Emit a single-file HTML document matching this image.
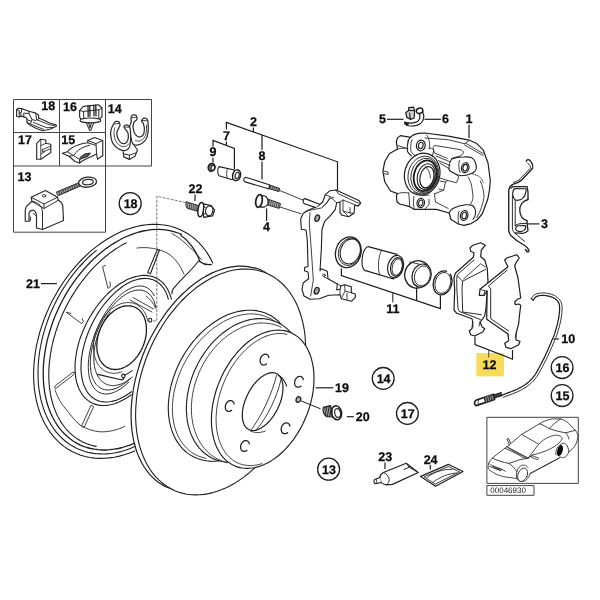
<!DOCTYPE html>
<html><head><meta charset="utf-8"><title>Brake parts diagram</title>
<style>
html,body{margin:0;padding:0;background:#fff;}
body{width:600px;height:600px;overflow:hidden;font-family:"Liberation Sans",sans-serif;}
svg{display:block}
.l{fill:none;stroke:#1e1e1e;stroke-width:1.1;stroke-linecap:round;stroke-linejoin:round}
.w{fill:#fff;stroke:#1e1e1e;stroke-width:1.1;stroke-linecap:round;stroke-linejoin:round}
.n{fill:none;stroke:#2c2c2c;stroke-width:0.9;stroke-linecap:round;stroke-linejoin:round}
.nw{fill:#fff;stroke:#2c2c2c;stroke-width:0.9;stroke-linecap:round;stroke-linejoin:round}
.k{fill:none;stroke:#1a1a1a;stroke-width:1.5;stroke-linecap:round;stroke-linejoin:round}
.g{fill:none;stroke:#444;stroke-width:1}
.ld{fill:none;stroke:#1e1e1e;stroke-width:1.2;stroke-linecap:butt}
.d{fill:none;stroke:#444;stroke-width:0.7;stroke-dasharray:3 1.2}
.f{fill:#fff;stroke:none}
.b{fill:#222;stroke:none}
.t,.s{text-rendering:geometricPrecision}
.t{font-family:"Liberation Sans",sans-serif;font-weight:bold;font-size:12.5px;fill:#0a0a0a;stroke:#0a0a0a;stroke-width:0.25px}
.s{font-family:"Liberation Sans",sans-serif;font-size:8px;fill:#222}
</style></head><body>
<svg width="600" height="600" viewBox="0 0 600 600">
<defs><filter id="idf" x="-5%" y="-5%" width="110%" height="110%" color-interpolation-filters="sRGB"><feOffset dx="0" dy="0"/></filter></defs>
<rect x="0" y="0" width="600" height="600" fill="#fff"/>
<path class="w" d="M134.7,450.9 L129.6,452.9 L124.5,454.7 L119.4,456.1 L114.3,457.2 L109.3,457.9 L104.3,458.3 L99.4,458.4 L94.6,458.1 L89.9,457.5 L85.2,456.5 L80.7,455.2 L76.4,453.5 L72.2,451.5 L68.1,449.2 L64.3,446.6 L60.6,443.7 L57.1,440.4 L53.8,436.9 L50.8,433.1 L48.0,429.0 L45.4,424.7 L43.0,420.1 L40.9,415.3 L39.1,410.3 L37.5,405.1 L36.2,399.6 L35.1,394.0 L34.3,388.3 L33.8,382.4 L33.6,376.4 L33.7,370.3 L34.0,364.1 L34.6,357.9 L35.5,351.5 L36.6,345.2 L38.1,338.9 L39.7,332.5 L41.7,326.2 L43.9,319.9 L46.3,313.7 L49.0,307.6 L51.9,301.6 L55.1,295.7 L58.4,289.9 L62.0,284.2 L65.7,278.8 L69.7,273.5 L73.8,268.4 L78.0,263.6 L82.4,259.0 L87.0,254.6 L91.6,250.4 L96.4,246.6 L101.3,243.0 L106.2,239.7 L111.2,236.7 L116.3,234.0 L121.4,231.6 L126.5,229.6 L131.6,227.9 L136.7,226.5 L141.7,225.4 L146.8,224.7 L151.7,224.4 L156.7,224.3 L161.5,224.7 L166.2,225.3 L170.8,226.3 L175.3,227.7 L179.6,229.4 L183.8,231.4 L187.8,233.7 L191.7,236.4 L195.3,239.3 L198.8,242.6 L202.1,246.1 L205.1,250.0 L207.9,254.1 L210.5,258.4 L212.8,263.0" />
<path class="l" d="M134.7,446.6 L131.5,448.0 L128.3,449.2 L125.1,450.3 L121.9,451.3 L118.7,452.1 L115.5,452.8 L112.3,453.3 L109.1,453.7 L106.0,453.9 L102.9,454.0 L99.8,453.9 L96.8,453.8 L93.8,453.4 L90.8,452.9 L87.9,452.3 L85.1,451.6 L82.3,450.6 L79.5,449.6 L76.9,448.4 L74.3,447.1 L71.7,445.6 L69.2,444.0 L66.8,442.3 L64.5,440.5 L62.3,438.5 L60.1,436.4 L58.1,434.2 L56.1,431.8 L54.2,429.4 L52.4,426.8 L50.7,424.1 L49.1,421.3 L47.6,418.4 L46.2,415.4 L44.9,412.3 L43.7,409.2 L42.7,405.9 L41.7,402.6 L40.8,399.1 L40.1,395.6 L39.5,392.1 L38.9,388.4 L38.5,384.7 L38.2,381.0 L38.1,377.2 L38.0,373.3 L38.1,369.4 L38.2,365.5 L38.5,361.5 L38.9,357.5 L39.4,353.5 L40.0,349.5 L40.8,345.5 L41.6,341.4 L42.5,337.4 L43.6,333.3 L44.8,329.3 L46.1,325.3 L47.4,321.3 L48.9,317.3 L50.5,313.4 L52.2,309.5 L54.0,305.6 L55.9,301.8 L57.8,298.0 L59.9,294.3 L62.0,290.6 L64.2,287.0 L66.6,283.5 L68.9,280.0 L71.4,276.7 L73.9,273.4 L76.5,270.2 L79.2,267.0 L82.0,264.0 L84.7,261.1 L87.6,258.2 L90.5,255.5 L93.4,252.9 L96.4,250.4" />
<path class="l" d="M134.9,443.0 L130.7,444.8 L126.6,446.2 L122.4,447.5 L118.3,448.5 L114.1,449.2 L110.1,449.7 L106.1,450.0 L102.1,450.0 L98.2,449.7 L94.4,449.2 L90.6,448.5 L87.0,447.5 L83.4,446.3 L79.9,444.8 L76.6,443.1 L73.4,441.2 L70.3,439.0 L67.4,436.6 L64.6,434.0 L61.9,431.1 L59.4,428.1 L57.1,424.9 L54.9,421.5 L52.9,417.8 L51.1,414.1 L49.5,410.1 L48.0,406.0 L46.7,401.7 L45.7,397.3 L44.8,392.8 L44.1,388.1 L43.6,383.4 L43.3,378.5 L43.2,373.6 L43.3,368.5 L43.6,363.4 L44.1,358.3 L44.8,353.1 L45.7,347.9 L46.7,342.7 L48.0,337.4 L49.5,332.2 L51.1,327.0 L52.9,321.8 L54.9,316.6 L57.1,311.5 L59.4,306.5 L61.9,301.5 L64.5,296.7 L67.3,291.9 L70.3,287.2 L73.4,282.7 L76.6,278.2 L79.9,274.0 L83.4,269.8 L86.9,265.9 L90.6,262.0 L94.3,258.4 L98.1,255.0 L102.0,251.7 L106.0,248.6 L110.0,245.8 L114.1,243.1 L118.2,240.7 L122.3,238.5 L126.5,236.5 L130.7,234.8 L134.8,233.3 L139.0,232.0 L143.1,231.0 L147.2,230.3 L151.3,229.7 L155.3,229.4 L159.3,229.4 L163.2,229.6 L167.1,230.1 L170.8,230.8 L174.5,231.8 L178.1,233.0 L181.5,234.4" style="stroke-width:1.3"/>
<path class="l" d="M181,235.5 C188,240 196,250 200,261.7" style="stroke-width:1.3"/>
<path class="l" d="M96.2,446.4 L93.8,445.9 L91.3,445.3 L89.0,444.5 L86.7,443.7 L84.4,442.7 L82.2,441.7 L80.0,440.5 L77.9,439.2 L75.9,437.9 L73.9,436.4 L72.0,434.8 L70.1,433.1 L68.3,431.4 L66.6,429.5 L64.9,427.5 L63.4,425.5 L61.9,423.4 L60.4,421.1 L59.1,418.8 L57.8,416.4 L56.6,414.0 L55.5,411.4 L54.5,408.8 L53.5,406.1 L52.7,403.3 L51.9,400.5 L51.2,397.6 L50.6,394.7 L50.1,391.6 L49.6,388.6 L49.3,385.5 L49.0,382.3 L48.9,379.1 L48.8,375.9 L48.8,372.6 L48.9,369.3 L49.1,365.9 L49.4,362.6 L49.8,359.2 L50.2,355.8 L50.8,352.3 L51.4,348.9 L52.1,345.5 L52.9,342.0 L53.8,338.5 L54.8,335.1 L55.8,331.6 L57.0,328.2 L58.2,324.8 L59.5,321.4 L60.9,318.0 L62.3,314.6 L63.9,311.3 L65.5,308.0 L67.1,304.7 L68.9,301.4 L70.7,298.2 L72.6,295.1 L74.5,292.0 L76.5,288.9 L78.6,285.9 L80.7,283.0 L82.9,280.1 L85.1,277.3 L87.4,274.5 L89.7,271.8 L92.1,269.2 L94.5,266.7 L97.0,264.2 L99.5,261.8 L102.0,259.5 L104.6,257.3 L107.2,255.2 L109.8,253.1 L112.5,251.2 L115.2,249.3 L117.9,247.6 L120.6,245.9 L123.3,244.3 L126.1,242.9" />
<path class="l" d="M200,261.7 C203,264 207,265.2 211.2,264.5" style="stroke-width:1.3"/>
<path class="n" d="M172,233.5 C182,239 192,249 201.5,259.5" />
<path class="l" d="M198.6,261 C194,267 189,272 184.6,276.4 C180,281 176,285.5 173.4,288.6 C172,290.4 171.6,292 172,293.6" />
<path class="n" d="M137,248 C148,246.5 160,249 168,253.5 C175,258 180,265 184,274" />
<path class="n" d="M55,390 C58,398 61,403.5 65,408 C70,414 74,420 80,425 C86,429 93,431.2 100,431.8 C108,432.2 118,430 124.8,426.3" />
<path class="n" d="M105.6,265.2 L102.6,266.8 L108,288.4 L110.4,286.6 L110,282" />
<path class="n" d="M71,313.5 L66.2,312.2 L81.6,323.6 L83.4,321.4 L82,318.5" />
<path class="n" d="M74.6,372.8 L73,375.2 L55.4,388.8 L54.6,386.4 L72.6,372.4 Z" />
<path class="n" d="M91.4,405.4 L93.6,406.6 L84,427.6 L81.8,426.4 Z" />
<path class="l" d="M147.6,272.6 L157.4,249.4 L159.4,250.2 L150.4,273.8 Z" />
<path class="l" d="M131.3,394.8 L128.5,396.8 L125.7,398.6 L122.9,400.1 L120.1,401.5 L117.3,402.7 L114.5,403.7 L111.7,404.5 L109.0,405.0 L106.4,405.4 L103.8,405.5 L101.2,405.4 L98.8,405.1 L96.4,404.6 L94.1,403.9 L91.9,402.9 L89.8,401.8 L87.9,400.4 L86.0,398.9 L84.3,397.1 L82.7,395.2 L81.3,393.1 L80.0,390.8 L78.8,388.4 L77.8,385.8 L76.9,383.0 L76.2,380.1 L75.7,377.1 L75.3,373.9 L75.1,370.7 L75.0,367.3 L75.1,363.8 L75.4,360.3 L75.8,356.7 L76.4,353.1 L77.1,349.4 L78.0,345.6 L79.0,341.9 L80.2,338.2 L81.6,334.4 L83.1,330.7 L84.7,327.0 L86.4,323.4 L88.3,319.8 L90.3,316.3 L92.4,312.9 L94.6,309.5 L96.9,306.3 L99.3,303.1 L101.8,300.1 L104.3,297.3 L106.9,294.5 L109.6,292.0 L112.3,289.6 L115.1,287.3 L117.9,285.2 L120.7,283.3 L123.5,281.7 L126.3,280.1 L129.1,278.8 L131.9,277.7 L134.7,276.9 L137.4,276.2 L140.1,275.7 L142.7,275.4 L145.3,275.4 L147.8,275.6 L150.2,276.0 L152.6,276.6 L154.8,277.4 L157.0,278.4 L159.0,279.7 L160.9,281.1 L162.7,282.7 L164.4,284.5 L165.9,286.5 L167.3,288.7 L168.5,291.1 L169.6,293.6 L170.6,296.3 L171.4,299.1" />
<path class="l" d="M131.4,391.7 L128.9,393.5 L126.3,395.2 L123.8,396.8 L121.2,398.1 L118.7,399.2 L116.2,400.2 L113.7,400.9 L111.3,401.5 L108.9,401.8 L106.6,402.0 L104.3,401.9 L102.1,401.7 L100.0,401.2 L98.0,400.6 L96.0,399.7 L94.2,398.7 L92.4,397.5 L90.8,396.1 L89.2,394.5 L87.8,392.7 L86.5,390.7 L85.4,388.6 L84.3,386.3 L83.4,383.9 L82.7,381.3 L82.1,378.6 L81.6,375.8 L81.2,372.9 L81.0,369.8 L81.0,366.7 L81.1,363.5 L81.3,360.1 L81.7,356.8 L82.3,353.3 L82.9,349.9 L83.8,346.4 L84.7,342.8 L85.8,339.3 L87.0,335.8 L88.3,332.3 L89.8,328.8 L91.4,325.3 L93.0,321.9 L94.8,318.6 L96.7,315.3 L98.7,312.1 L100.8,309.0 L102.9,306.0 L105.2,303.2 L107.5,300.4 L109.8,297.8 L112.2,295.3 L114.7,292.9 L117.2,290.7 L119.7,288.7 L122.2,286.8 L124.7,285.1 L127.3,283.6 L129.8,282.3 L132.3,281.1 L134.8,280.2 L137.3,279.5 L139.7,278.9 L142.1,278.6 L144.5,278.4 L146.7,278.5 L148.9,278.7 L151.0,279.2 L153.1,279.8 L155.0,280.7 L156.9,281.7 L158.6,283.0 L160.3,284.4 L161.8,286.0 L163.2,287.8 L164.5,289.7 L165.7,291.8 L166.7,294.1 L167.6,296.5 L168.3,299.1" />
<path class="l" d="M128.7,382.1 L126.8,383.9 L124.9,385.6 L123.0,387.1 L121.1,388.5 L119.1,389.7 L117.2,390.8 L115.4,391.7 L113.5,392.5 L111.7,393.1 L109.9,393.6 L108.1,393.9 L106.4,394.0 L104.8,394.0 L103.1,393.7 L101.6,393.4 L100.1,392.8 L98.7,392.1 L97.4,391.3 L96.1,390.3 L95.0,389.1 L93.9,387.8 L92.9,386.3 L92.0,384.7 L91.2,383.0 L90.4,381.1 L89.8,379.1 L89.3,377.0 L88.9,374.8 L88.6,372.4 L88.4,370.0 L88.3,367.5 L88.3,364.9 L88.4,362.2 L88.7,359.4 L89.0,356.6 L89.4,353.7 L90.0,350.8 L90.6,347.9 L91.3,344.9 L92.2,341.9 L93.1,339.0 L94.1,336.0 L95.2,333.0 L96.4,330.1 L97.7,327.1 L99.0,324.3 L100.4,321.4 L101.9,318.7 L103.5,315.9 L105.1,313.3 L106.8,310.8 L108.5,308.3 L110.3,305.9 L112.1,303.7 L113.9,301.5 L115.8,299.5 L117.6,297.6 L119.6,295.8 L121.5,294.1 L123.4,292.6 L125.3,291.3 L127.2,290.1 L129.1,289.0 L131.0,288.1 L132.8,287.4 L134.7,286.8 L136.5,286.3 L138.2,286.1 L139.9,286.0 L141.5,286.1 L143.1,286.3 L144.7,286.7 L146.1,287.3 L147.5,288.0 L148.8,288.9 L150.1,289.9 L151.2,291.1 L152.3,292.5 L153.3,294.0 L154.2,295.6" style="stroke-width:0.95"/>
<path class="l" d="M130.5,378.3 L128.6,380.1 L126.7,381.8 L124.7,383.3 L122.8,384.7 L120.8,386.0 L118.9,387.0 L116.9,388.0 L115.0,388.7 L113.1,389.3 L111.3,389.7 L109.5,389.9 L107.8,390.0 L106.1,389.9 L104.4,389.6 L102.9,389.1 L101.4,388.5 L99.9,387.7 L98.6,386.8 L97.4,385.6 L96.2,384.4 L95.1,382.9 L94.2,381.3 L93.3,379.6 L92.5,377.7 L91.9,375.7 L91.3,373.6 L90.9,371.4 L90.6,369.0 L90.4,366.6 L90.3,364.0 L90.3,361.4 L90.5,358.7 L90.7,355.9 L91.1,353.1 L91.6,350.2 L92.2,347.3 L92.9,344.4 L93.7,341.5 L94.6,338.5 L95.6,335.6 L96.7,332.7 L97.9,329.8 L99.2,326.9 L100.6,324.1 L102.1,321.3 L103.6,318.6 L105.2,316.0 L106.9,313.4 L108.6,311.0 L110.4,308.6 L112.2,306.4 L114.0,304.3 L115.9,302.3 L117.8,300.4 L119.8,298.7 L121.7,297.1 L123.7,295.7 L125.6,294.4 L127.6,293.2 L129.5,292.3 L131.4,291.5 L133.3,290.9 L135.2,290.4 L137.0,290.1 L138.8,290.0 L140.5,290.1 L142.1,290.3 L143.7,290.7 L145.2,291.3 L146.7,292.0 L148.0,293.0 L149.3,294.0 L150.5,295.3 L151.6,296.7 L152.6,298.2 L153.5,299.9 L154.3,301.7 L154.9,303.7 L155.5,305.8 L156.0,308.0" style="stroke-width:0.95"/>
<path class="l" d="M132.3,377.0 L131.2,377.9 L130.1,378.8 L129.0,379.6 L127.9,380.4 L126.8,381.1 L125.6,381.8 L124.5,382.4 L123.4,383.0 L122.2,383.5 L121.1,384.0 L120.0,384.4 L118.9,384.7 L117.8,385.0 L116.7,385.2 L115.6,385.4 L114.6,385.5 L113.5,385.6 L112.5,385.6 L111.5,385.5 L110.5,385.4 L109.5,385.2 L108.5,385.0 L107.6,384.7 L106.7,384.4 L105.8,384.0 L104.9,383.5 L104.0,383.0 L103.2,382.4 L102.4,381.8 L101.7,381.1 L100.9,380.4 L100.3,379.6 L99.6,378.8 L99.0,377.9 L98.4,377.0 L97.8,376.0 L97.3,375.0 L96.8,373.9 L96.3,372.8 L95.9,371.7 L95.5,370.5 L95.2,369.3 L94.8,368.0 L94.6,366.7 L94.4,365.4 L94.2,364.0 L94.0,362.6 L93.9,361.2 L93.8,359.7 L93.8,358.2 L93.8,356.7 L93.9,355.2 L94.0,353.7 L94.1,352.1 L94.3,350.5 L94.5,348.9 L94.7,347.3 L95.0,345.7 L95.3,344.1 L95.7,342.5 L96.1,340.8 L96.5,339.2 L97.0,337.6 L97.5,335.9 L98.1,334.3 L98.7,332.7 L99.3,331.1 L99.9,329.5 L100.6,327.9 L101.3,326.4 L102.1,324.8 L102.8,323.3 L103.6,321.8 L104.5,320.3 L105.3,318.8 L106.2,317.4 L107.1,316.0 L108.0,314.6 L109.0,313.3 L110.0,312.0" style="stroke-width:0.95"/>
<path class="l" d="M100.4,328.7 L101.1,327.1 L101.8,325.6 L102.6,324.0 L103.5,322.5 L104.4,321.1 L105.4,319.7 L106.4,318.3 L107.4,317.0 L108.5,315.8 L109.6,314.6 L110.8,313.5 L112.0,312.4 L113.2,311.4 L114.4,310.5 L115.7,309.7 L116.9,308.9 L118.2,308.2 L119.5,307.6 L120.8,307.1 L122.1,306.7 L123.4,306.3 L124.7,306.0 L126.0,305.9 L127.3,305.8 L128.5,305.8 L129.8,305.8 L131.0,306.0 L132.2,306.3 L133.3,306.6 L134.5,307.0 L135.5,307.5 L136.6,308.1 L137.6,308.8 L138.6,309.5 L139.5,310.4 L140.4,311.3 L141.2,312.2 L142.0,313.3 L142.7,314.4 L143.4,315.6 L144.0,316.8 L144.5,318.1 L145.0,319.4 L145.4,320.8 L145.7,322.3 L146.0,323.8 L146.2,325.3 L146.4,326.8 L146.4,328.4 L146.4,330.0 L146.4,331.7 L146.3,333.3 L146.1,335.0 L145.8,336.6 L145.5,338.3 L145.1,340.0 L144.6,341.6 L144.1,343.3 L143.5,344.9 L142.9,346.5 L142.2,348.1 L141.4,349.7 L140.6,351.2 L139.7,352.7 L138.8,354.2 L137.9,355.6 L136.9,356.9 L135.8,358.2 L134.7,359.5 L133.6,360.6 L132.5,361.8 L131.3,362.8 L130.1,363.8 L128.8,364.7 L127.6,365.6 L126.3,366.3 L125.0,367.0 L123.7,367.6 L122.4,368.1 L121.1,368.6 L119.8,368.9 L118.6,369.2 L117.3,369.4 L116.0,369.5 L114.7,369.5 L113.5,369.4 L112.3,369.2 L111.1,369.0 L109.9,368.7 L108.8,368.2 L107.7,367.7 L106.6,367.1 L105.6,366.5 L104.7,365.7 L103.7,364.9 L102.9,364.0 L102.0,363.0 L101.3,362.0 L100.5,360.9 L99.9,359.7 L99.3,358.4 L98.8,357.1 L98.3,355.8 L97.9,354.4 L97.5,353.0 L97.2,351.5 L97.0,350.0 L96.9,348.4 L96.8,346.8 L96.8,345.2 L96.9,343.6 L97.0,341.9 L97.2,340.3 L97.4,338.6 L97.8,336.9 L98.2,335.3 L98.6,333.6 L99.1,332.0 L99.7,330.3Z" style="stroke-width:1.3"/>
<path class="n" d="M121.9,371.8 L120.3,372.3 L118.8,372.7 L117.3,373.0 L115.7,373.2 L114.2,373.3 L112.7,373.3 L111.3,373.1 L109.8,372.9 L108.4,372.5 L107.1,372.0 L105.8,371.4 L104.5,370.7 L103.3,369.9 L102.1,369.0 L101.0,368.0 L100.0,366.9 L99.0,365.8 L98.1,364.5 L97.3,363.1 L96.5,361.7 L95.9,360.2 L95.3,358.6 L94.8,357.0 L94.3,355.3 L94.0,353.5 L93.7,351.7 L93.6,349.8 L93.5,347.9 L93.5,346.0 L93.6,344.1 L93.7,342.1 L94.0,340.1 L94.4,338.1 L94.8,336.1 L95.3,334.1 L95.9,332.2 L96.6,330.2 L97.3,328.3 L98.2,326.4 L99.1,324.5 L100.0,322.7 L101.1,320.9 L102.2,319.2 L103.3,317.6 L104.5,316.0 L105.8,314.4 L107.1,313.0 L108.5,311.6 L109.9,310.3 L111.3,309.1 L112.8,308.0 L114.3,307.0 L115.8,306.1 L117.3,305.3 L118.9,304.6 L120.4,303.9 L122.0,303.4 L123.5,303.1 L125.0,302.8 L126.6,302.6 L128.1,302.5 L129.6,302.6 L131.0,302.8 L132.4,303.0 L133.8,303.4 L135.2,303.9 L136.5,304.5 L137.8,305.2 L139.0,306.1 L140.1,307.0 L141.2,308.0 L142.2,309.1 L143.2,310.3 L144.1,311.6 L144.9,312.9 L145.6,314.4 L146.3,315.9 L146.9,317.5 L147.4,319.2 L147.8,320.9" />
<ellipse class="l" cx="150.2" cy="320.2" rx="1.6" ry="1.9"/>
<path class="n" d="M130,300 L152,312" />
<path class="n" d="M133,297.5 L153.5,309" />
<path class="n" d="M146,296 C150,299 153.5,303 155.5,308" />
<ellipse class="l" cx="123.3" cy="376" rx="1.6" ry="1.9"/>
<path class="l" d="M97.8,374.4 L121,379.8 C122.6,380 123.6,379.2 124,378" />
<path class="l" d="M124.8,375.4 L132.2,370.6" />
<path class="d" d="M186,202.6 L156.8,196.2 V321 H151.5" />
<path class="f" d="M145.1,349.7 L147.6,344.1 L150.3,338.5 L153.2,333.1 L156.2,327.7 L159.4,322.6 L162.7,317.5 L166.2,312.7 L169.8,308.0 L173.5,303.5 L177.3,299.2 L181.3,295.2 L185.3,291.3 L189.4,287.7 L193.6,284.4 L197.8,281.3 L202.0,278.5 L206.3,276.0 L210.7,273.7 L215.0,271.7 L219.3,270.1 L223.6,268.7 L227.9,267.6 L232.1,266.8 L236.3,266.4 L240.4,266.2 L244.5,266.3 L248.5,266.8 L252.3,267.6 L256.1,268.6 L259.8,270.0 L263.3,271.7 L266.7,273.6 L269.9,275.9 L273.0,278.4 L275.9,281.2 L278.7,284.3 L281.3,287.6 L283.7,291.2 L285.9,295.0 L287.9,299.1 L289.7,303.4 L291.3,307.8 L292.6,312.5 L293.8,317.4 L294.8,322.4 L295.5,327.6 L296.0,332.9 L296.2,338.3 L296.3,343.9 L296.1,349.5 L295.7,355.3 L295.1,361.1 L294.2,366.9 L293.1,372.8 L291.9,378.7 L290.3,384.5 L288.6,390.4 L286.7,396.3 L284.6,402.1 L282.3,407.8 L279.8,413.4 L277.1,419.0 L274.2,424.4 L271.2,429.8 L268.0,434.9 L264.7,440.0 L261.2,444.8 L257.6,449.5 L253.9,454.0 L250.1,458.3 L246.1,462.3 L242.1,466.2 L238.0,469.8 L233.8,473.1 L229.6,476.2 L225.4,479.0 L221.1,481.5 L216.7,483.8 L212.4,485.8 L208.1,487.4 L203.8,488.8 L199.5,489.9 L195.3,490.7 L191.1,491.1 L187.0,491.3 L182.9,491.2 L178.9,490.7 L175.1,489.9 L171.3,488.9 L167.6,487.5 L164.1,485.8 L160.7,483.9 L157.5,481.6 L154.4,479.1 L151.5,476.3 L148.7,473.2 L146.1,469.9 L143.7,466.3 L141.5,462.5 L139.5,458.4 L137.7,454.1 L136.1,449.7 L134.8,445.0 L133.6,440.1 L132.6,435.1 L131.9,429.9 L131.4,424.6 L131.2,419.2 L131.1,413.6 L131.3,408.0 L131.7,402.2 L132.3,396.4 L133.2,390.6 L134.3,384.7 L135.5,378.8 L137.1,373.0 L138.8,367.1 L140.7,361.2 L142.8,355.4Z" />
<path class="l" d="M180.0,490.9 L177.0,490.4 L174.1,489.7 L171.2,488.8 L168.4,487.8 L165.6,486.6 L162.9,485.2 L160.3,483.6 L157.8,481.9 L155.4,480.0 L153.1,477.9 L150.9,475.7 L148.8,473.3 L146.8,470.7 L144.9,468.0 L143.1,465.2 L141.4,462.2 L139.9,459.1 L138.4,455.9 L137.1,452.5 L135.9,449.0 L134.9,445.4 L133.9,441.7 L133.1,437.9 L132.5,434.0 L131.9,429.9 L131.5,425.9 L131.3,421.7 L131.1,417.5 L131.1,413.2 L131.2,408.8 L131.5,404.4 L131.9,400.0 L132.5,395.5 L133.1,391.0 L133.9,386.5 L134.8,381.9 L135.9,377.4 L137.1,372.8 L138.4,368.3 L139.8,363.8 L141.4,359.3 L143.0,354.8 L144.8,350.4 L146.7,346.0 L148.7,341.7 L150.8,337.5 L153.1,333.3 L155.4,329.2 L157.8,325.1 L160.3,321.2 L162.9,317.3 L165.5,313.6 L168.3,309.9 L171.1,306.4 L174.0,303.0 L176.9,299.7 L180.0,296.5 L183.0,293.5 L186.2,290.6 L189.3,287.8 L192.5,285.2 L195.8,282.8 L199.0,280.5 L202.3,278.3 L205.6,276.4 L209.0,274.6 L212.3,272.9 L215.6,271.5 L219.0,270.2 L222.3,269.1 L225.6,268.1 L228.9,267.4 L232.1,266.8 L235.4,266.4 L238.6,266.2 L241.7,266.2 L244.9,266.4 L247.9,266.7 L250.9,267.3 L253.9,268.0" style="stroke-width:1.2"/>
<path class="w" d="M148.7,352.0 L151.2,346.3 L153.8,340.8 L156.7,335.3 L159.7,330.0 L162.9,324.8 L166.2,319.8 L169.7,314.9 L173.4,310.3 L177.1,305.8 L181.0,301.5 L185.0,297.5 L189.1,293.7 L193.3,290.1 L197.5,286.8 L201.9,283.8 L206.2,281.0 L210.6,278.5 L215.1,276.2 L219.5,274.3 L224.0,272.7 L228.4,271.3 L232.8,270.3 L237.2,269.5 L241.6,269.1 L245.8,269.0 L250.1,269.2 L254.2,269.7 L258.2,270.5 L262.2,271.6 L266.0,273.0 L269.7,274.8 L273.3,276.8 L276.7,279.1 L280.0,281.7 L283.1,284.5 L286.0,287.6 L288.8,291.0 L291.4,294.7 L293.7,298.5 L295.9,302.6 L297.9,306.9 L299.6,311.5 L301.2,316.2 L302.5,321.1 L303.6,326.1 L304.5,331.4 L305.1,336.7 L305.5,342.2 L305.7,347.8 L305.6,353.5 L305.3,359.2 L304.8,365.0 L304.1,370.9 L303.1,376.8 L301.9,382.7 L300.5,388.6 L298.8,394.5 L296.9,400.4 L294.9,406.2 L292.6,411.9 L290.1,417.6 L287.5,423.1 L284.6,428.6 L281.6,433.9 L278.4,439.1 L275.1,444.1 L271.6,449.0 L267.9,453.6 L264.2,458.1 L260.3,462.4 L256.3,466.4 L252.2,470.2 L248.0,473.8 L243.8,477.1 L239.4,480.1 L235.1,482.9 L230.7,485.4 L226.2,487.7 L221.8,489.6 L217.3,491.2 L212.9,492.6 L208.5,493.6 L204.1,494.4 L199.7,494.8 L195.5,494.9 L191.2,494.7 L187.1,494.2 L183.1,493.4 L179.1,492.3 L175.3,490.9 L171.6,489.1 L168.0,487.1 L164.6,484.8 L161.3,482.2 L158.2,479.4 L155.3,476.3 L152.5,472.9 L149.9,469.2 L147.6,465.4 L145.4,461.3 L143.4,457.0 L141.7,452.4 L140.1,447.7 L138.8,442.8 L137.7,437.8 L136.8,432.5 L136.2,427.2 L135.8,421.7 L135.6,416.1 L135.7,410.4 L136.0,404.7 L136.5,398.9 L137.2,393.0 L138.2,387.1 L139.4,381.2 L140.8,375.3 L142.5,369.4 L144.4,363.5 L146.4,357.7Z" />
<path class="l" d="M254,267.6 C258,268.4 262,270 266,272.6" />
<path class="w" d="M181.8,358.4 L183.9,354.8 L186.1,351.2 L188.5,347.7 L191.0,344.4 L193.5,341.1 L196.2,338.0 L199.0,335.0 L201.9,332.1 L204.8,329.4 L207.9,326.9 L211.0,324.5 L214.1,322.2 L217.3,320.2 L220.5,318.3 L223.8,316.6 L227.0,315.1 L230.3,313.8 L233.6,312.7 L236.9,311.8 L240.2,311.1 L243.4,310.6 L246.6,310.3 L249.8,310.2 L252.9,310.3 L256.0,310.6 L259.0,311.2 L261.9,311.9 L264.7,312.8 L267.4,314.0 L270.1,315.3 L272.6,316.8 L275.0,318.5 L277.3,320.4 L279.5,322.5 L281.5,324.8 L283.4,327.2 L285.2,329.8 L286.8,332.5 L288.2,335.4 L289.5,338.4 L290.7,341.5 L291.6,344.8 L292.5,348.2 L293.1,351.6 L293.6,355.2 L293.9,358.9 L294.0,362.6 L294.0,366.4 L293.7,370.2 L293.3,374.1 L292.8,378.0 L292.1,382.0 L291.2,385.9 L290.1,389.9 L288.9,393.8 L287.5,397.7 L286.0,401.6 L284.3,405.5 L282.5,409.3 L280.5,413.0 L278.4,416.6 L276.2,420.2 L273.8,423.7 L271.3,427.0 L268.8,430.3 L266.1,433.4 L263.3,436.4 L260.4,439.3 L257.5,442.0 L254.4,444.5 L251.3,446.9 L248.2,449.2 L245.0,451.2 L241.8,453.1 L238.5,454.8 L235.3,456.3 L232.0,457.6 L228.7,458.7 L225.4,459.6 L222.1,460.3 L218.9,460.8 L215.7,461.1 L212.5,461.2 L209.4,461.1 L206.3,460.8 L203.3,460.2 L200.4,459.5 L197.6,458.6 L194.9,457.4 L192.2,456.1 L189.7,454.6 L187.3,452.9 L185.0,451.0 L182.8,448.9 L180.8,446.6 L178.9,444.2 L177.1,441.6 L175.5,438.9 L174.1,436.0 L172.8,433.0 L171.6,429.9 L170.7,426.6 L169.8,423.2 L169.2,419.8 L168.7,416.2 L168.4,412.5 L168.3,408.8 L168.3,405.0 L168.6,401.2 L169.0,397.3 L169.5,393.4 L170.2,389.4 L171.1,385.5 L172.2,381.5 L173.4,377.6 L174.8,373.7 L176.3,369.8 L178.0,365.9 L179.8,362.1Z" />
<path class="n" d="M205.9,458.3 L203.5,457.7 L201.1,457.0 L198.8,456.2 L196.6,455.2 L194.5,454.1 L192.4,452.8 L190.4,451.4 L188.5,449.9 L186.7,448.2 L185.0,446.4 L183.4,444.5 L181.8,442.4 L180.4,440.3 L179.1,438.0 L177.9,435.7 L176.8,433.2 L175.9,430.7 L175.0,428.0 L174.3,425.3 L173.7,422.5 L173.2,419.6 L172.8,416.6 L172.5,413.6 L172.4,410.5 L172.4,407.4 L172.5,404.3 L172.8,401.1 L173.1,397.8 L173.6,394.6 L174.2,391.3 L175.0,388.0 L175.8,384.8 L176.8,381.5 L177.8,378.2 L179.0,375.0 L180.3,371.7 L181.7,368.5 L183.2,365.4 L184.8,362.3 L186.5,359.2 L188.3,356.2 L190.2,353.2 L192.2,350.4 L194.3,347.6 L196.4,344.8 L198.6,342.2 L200.9,339.6 L203.3,337.2 L205.7,334.8 L208.1,332.6 L210.7,330.4 L213.2,328.4 L215.8,326.5 L218.5,324.7 L221.1,323.0 L223.8,321.5 L226.5,320.1 L229.2,318.9 L232.0,317.7 L234.7,316.8 L237.4,315.9 L240.1,315.2 L242.8,314.7 L245.5,314.3 L248.2,314.0 L250.8,313.9 L253.4,313.9 L255.9,314.1 L258.4,314.5 L260.9,315.0 L263.3,315.6 L265.6,316.4 L267.8,317.3 L270.0,318.3 L272.1,319.5 L274.2,320.9 L276.1,322.3 L278.0,323.9 L279.7,325.7 L281.4,327.5" />
<path class="w" d="M196.3,367.0 L198.0,363.4 L199.9,360.0 L202.0,356.6 L204.1,353.4 L206.4,350.2 L208.7,347.1 L211.2,344.2 L213.7,341.4 L216.4,338.7 L219.1,336.2 L221.9,333.8 L224.8,331.5 L227.7,329.5 L230.6,327.6 L233.6,325.8 L236.7,324.3 L239.7,322.9 L242.8,321.7 L245.9,320.7 L249.0,319.9 L252.0,319.3 L255.1,318.9 L258.1,318.6 L261.1,318.6 L264.0,318.8 L266.9,319.1 L269.7,319.7 L272.5,320.5 L275.2,321.4 L277.8,322.5 L280.3,323.9 L282.7,325.4 L285.0,327.1 L287.3,328.9 L289.3,330.9 L291.3,333.1 L293.2,335.5 L294.9,338.0 L296.5,340.6 L297.9,343.4 L299.2,346.3 L300.3,349.3 L301.3,352.5 L302.2,355.7 L302.9,359.0 L303.4,362.5 L303.7,366.0 L304.0,369.5 L304.0,373.2 L303.9,376.8 L303.6,380.6 L303.2,384.3 L302.6,388.0 L301.8,391.8 L300.9,395.6 L299.8,399.3 L298.6,403.0 L297.3,406.7 L295.8,410.4 L294.1,413.9 L292.4,417.5 L290.5,420.9 L288.4,424.3 L286.3,427.5 L284.0,430.7 L281.7,433.8 L279.2,436.7 L276.7,439.5 L274.0,442.2 L271.3,444.7 L268.5,447.1 L265.6,449.4 L262.7,451.4 L259.8,453.3 L256.8,455.1 L253.7,456.6 L250.7,458.0 L247.6,459.2 L244.5,460.2 L241.4,461.0 L238.4,461.6 L235.3,462.0 L232.3,462.3 L229.3,462.3 L226.4,462.1 L223.5,461.8 L220.7,461.2 L217.9,460.4 L215.2,459.5 L212.6,458.4 L210.1,457.0 L207.7,455.5 L205.4,453.8 L203.1,452.0 L201.1,450.0 L199.1,447.8 L197.2,445.4 L195.5,442.9 L193.9,440.3 L192.5,437.5 L191.2,434.6 L190.1,431.6 L189.1,428.4 L188.2,425.2 L187.5,421.9 L187.0,418.4 L186.7,414.9 L186.4,411.4 L186.4,407.7 L186.5,404.1 L186.8,400.3 L187.2,396.6 L187.8,392.9 L188.6,389.1 L189.5,385.3 L190.6,381.6 L191.8,377.9 L193.1,374.2 L194.6,370.5Z" />
<path class="n" d="M227.8,462.7 L225.5,462.2 L223.4,461.5 L221.2,460.7 L219.1,459.8 L217.1,458.8 L215.1,457.7 L213.2,456.4 L211.3,455.1 L209.5,453.6 L207.8,452.1 L206.2,450.4 L204.6,448.7 L203.1,446.8 L201.7,444.9 L200.3,442.8 L199.1,440.7 L197.9,438.5 L196.9,436.2 L195.9,433.9 L195.0,431.4 L194.2,428.9 L193.5,426.4 L192.9,423.8 L192.4,421.1 L192.0,418.4 L191.7,415.7 L191.5,412.9 L191.4,410.1 L191.4,407.2 L191.5,404.3 L191.7,401.4 L192.0,398.5 L192.4,395.6 L192.9,392.7 L193.5,389.7 L194.2,386.8 L195.0,383.9 L195.9,381.0 L196.9,378.2 L198.0,375.3 L199.1,372.5 L200.4,369.7 L201.7,367.0 L203.1,364.3 L204.6,361.7 L206.2,359.1 L207.8,356.6 L209.6,354.1 L211.4,351.7 L213.2,349.4 L215.1,347.2 L217.1,345.0 L219.2,342.9 L221.2,340.9 L223.4,339.0 L225.6,337.2 L227.8,335.5 L230.1,333.9 L232.4,332.4 L234.7,331.0 L237.1,329.7 L239.4,328.5 L241.8,327.4 L244.2,326.4 L246.7,325.6 L249.1,324.9 L251.5,324.3 L253.9,323.8 L256.4,323.4 L258.8,323.1 L261.2,323.0 L263.5,323.0 L265.9,323.1 L268.2,323.4 L270.5,323.7 L272.7,324.2 L274.9,324.8 L277.1,325.5 L279.2,326.3 L281.3,327.3" />
<path class="w" d="M219.5,381.4 L221.0,377.9 L222.6,374.5 L224.3,371.1 L226.2,367.9 L228.1,364.7 L230.1,361.6 L232.2,358.6 L234.4,355.8 L236.7,353.0 L239.1,350.4 L241.5,347.9 L244.0,345.5 L246.5,343.3 L249.0,341.3 L251.7,339.4 L254.3,337.6 L256.9,336.1 L259.6,334.7 L262.3,333.5 L265.0,332.5 L267.7,331.6 L270.3,331.0 L273.0,330.5 L275.6,330.2 L278.2,330.1 L280.7,330.2 L283.2,330.5 L285.6,330.9 L288.0,331.6 L290.3,332.4 L292.5,333.5 L294.7,334.7 L296.7,336.1 L298.7,337.6 L300.6,339.4 L302.3,341.2 L304.0,343.3 L305.5,345.5 L306.9,347.8 L308.2,350.3 L309.4,353.0 L310.5,355.7 L311.4,358.6 L312.1,361.6 L312.8,364.7 L313.3,367.8 L313.7,371.1 L313.9,374.4 L314.0,377.9 L313.9,381.3 L313.8,384.8 L313.4,388.4 L313.0,392.0 L312.4,395.6 L311.6,399.2 L310.7,402.8 L309.7,406.5 L308.6,410.0 L307.3,413.6 L305.9,417.1 L304.4,420.6 L302.8,424.0 L301.1,427.4 L299.2,430.6 L297.3,433.8 L295.3,436.9 L293.2,439.9 L291.0,442.7 L288.7,445.5 L286.3,448.1 L283.9,450.6 L281.4,453.0 L278.9,455.2 L276.4,457.2 L273.7,459.1 L271.1,460.9 L268.5,462.4 L265.8,463.8 L263.1,465.0 L260.4,466.0 L257.7,466.9 L255.1,467.5 L252.4,468.0 L249.8,468.3 L247.2,468.4 L244.7,468.3 L242.2,468.0 L239.8,467.6 L237.4,466.9 L235.1,466.1 L232.9,465.0 L230.7,463.8 L228.7,462.4 L226.7,460.9 L224.8,459.1 L223.1,457.3 L221.4,455.2 L219.9,453.0 L218.5,450.7 L217.2,448.2 L216.0,445.5 L214.9,442.8 L214.0,439.9 L213.3,436.9 L212.6,433.8 L212.1,430.7 L211.7,427.4 L211.5,424.1 L211.4,420.6 L211.5,417.2 L211.6,413.7 L212.0,410.1 L212.4,406.5 L213.0,402.9 L213.8,399.3 L214.7,395.7 L215.7,392.0 L216.8,388.5 L218.1,384.9Z" style="stroke-width:1.15"/>
<path class="n" d="M262.0,463.6 L259.9,464.3 L257.7,464.8 L255.6,465.2 L253.5,465.4 L251.4,465.6 L249.3,465.6 L247.3,465.4 L245.3,465.2 L243.3,464.8 L241.4,464.3 L239.5,463.7 L237.7,462.9 L235.9,462.0 L234.2,461.0 L232.6,459.9 L231.0,458.6 L229.4,457.2 L228.0,455.8 L226.6,454.2 L225.3,452.5 L224.1,450.7 L222.9,448.8 L221.9,446.8 L220.9,444.7 L220.0,442.5 L219.2,440.3 L218.5,437.9 L217.9,435.5 L217.3,433.0 L216.9,430.5 L216.6,427.9 L216.3,425.2 L216.2,422.5 L216.1,419.7 L216.1,416.9 L216.3,414.1 L216.5,411.2 L216.8,408.3 L217.3,405.4 L217.8,402.5 L218.4,399.6 L219.1,396.7 L219.9,393.8 L220.8,390.9 L221.7,388.0 L222.8,385.1 L223.9,382.3 L225.1,379.5 L226.4,376.7 L227.8,374.0 L229.2,371.3 L230.7,368.7 L232.3,366.1 L233.9,363.7 L235.6,361.2 L237.4,358.9 L239.2,356.6 L241.1,354.5 L243.0,352.4 L245.0,350.4 L246.9,348.5 L249.0,346.7 L251.0,345.0 L253.1,343.4 L255.2,341.9 L257.4,340.5 L259.5,339.3 L261.7,338.1 L263.8,337.1 L266.0,336.2 L268.2,335.5 L270.3,334.8 L272.5,334.3 L274.6,333.9 L276.7,333.7 L278.8,333.5 L280.9,333.5 L282.9,333.7 L284.9,333.9 L286.9,334.3" />
<path class="l" d="M247.8,394.2 L248.5,392.8 L249.3,391.3 L250.2,389.9 L251.0,388.6 L251.9,387.2 L252.8,385.9 L253.8,384.7 L254.7,383.5 L255.7,382.3 L256.7,381.2 L257.8,380.2 L258.8,379.2 L259.9,378.3 L260.9,377.4 L262.0,376.6 L263.1,375.9 L264.1,375.2 L265.2,374.7 L266.2,374.1 L267.3,373.7 L268.3,373.3 L269.3,373.1 L270.3,372.9 L271.3,372.7 L272.2,372.7 L273.2,372.7 L274.1,372.8 L274.9,373.0 L275.8,373.3 L276.6,373.7 L277.3,374.1 L278.0,374.6 L278.7,375.2 L279.3,375.8 L279.9,376.5 L280.5,377.3 L281.0,378.2 L281.4,379.1 L281.8,380.1 L282.1,381.1 L282.4,382.2 L282.6,383.3 L282.8,384.5 L282.9,385.8 L283.0,387.1 L283.0,388.4 L282.9,389.8 L282.8,391.2 L282.7,392.6 L282.5,394.0 L282.2,395.5 L281.9,397.0 L281.5,398.5 L281.1,400.0 L280.6,401.5 L280.1,403.0 L279.5,404.5 L278.9,406.0 L278.2,407.5 L277.5,409.0 L276.8,410.4 L276.0,411.9 L275.1,413.3 L274.3,414.6 L273.4,416.0 L272.5,417.3 L271.5,418.5 L270.6,419.7 L269.6,420.9 L268.6,422.0 L267.5,423.0 L266.5,424.0 L265.4,424.9 L264.4,425.8 L263.3,426.6 L262.2,427.3 L261.2,428.0 L260.1,428.5 L259.1,429.1 L258.0,429.5 L257.0,429.9 L256.0,430.1 L255.0,430.3 L254.0,430.5 L253.1,430.5 L252.1,430.5 L251.2,430.4 L250.4,430.2 L249.5,429.9 L248.7,429.5 L248.0,429.1 L247.3,428.6 L246.6,428.0 L246.0,427.4 L245.4,426.7 L244.8,425.9 L244.3,425.0 L243.9,424.1 L243.5,423.1 L243.2,422.1 L242.9,421.0 L242.7,419.9 L242.5,418.7 L242.4,417.4 L242.3,416.1 L242.3,414.8 L242.4,413.4 L242.5,412.0 L242.6,410.6 L242.8,409.2 L243.1,407.7 L243.4,406.2 L243.8,404.7 L244.2,403.2 L244.7,401.7 L245.2,400.2 L245.8,398.7 L246.4,397.2 L247.1,395.7Z" style="stroke-width:1.2"/>
<path class="n" d="M276.5,375.5 C272,394 262,415 251.5,429.5" />
<path class="n" d="M281,379.5 C277,397 268,416 256,430.5" />
<path class="l" d="M278.6,375.2 C282.4,377.6 285.2,381.4 286.6,386" />
<path class="n" d="M250.6,431 C255,433.2 260.4,433 265.4,431" />
<path class="l" d="M266.5,363.9 L266.0,364.2 L265.5,364.6 L264.9,364.8 L264.4,364.9 L263.8,365.0 L263.3,365.0 L262.8,364.9 L262.3,364.7 L261.8,364.5 L261.4,364.1 L261.0,363.7 L260.7,363.3 L260.5,362.8 L260.3,362.2 L260.1,361.6 L260.1,360.9 L260.1,360.3 L260.2,359.6 L260.3,358.9 L260.5,358.3 L260.8,357.6 L261.1,357.0 L261.5,356.4 L261.9,355.9 L262.4,355.4 L262.9,355.0 L263.4,354.7 L263.9,354.5 L264.5,354.3 L265.0,354.2 L265.6,354.2 L266.1,354.3 L266.6,354.4 L267.1,354.6 L267.5,355.0 L267.9,355.3 L268.2,355.8 L268.5,356.3 L268.7,356.9 L268.8,357.5" style="stroke-width:1.25"/>
<path class="l" d="M301.0,386.1 L300.5,386.4 L300.0,386.8 L299.4,387.0 L298.9,387.1 L298.3,387.2 L297.8,387.2 L297.3,387.1 L296.8,386.9 L296.3,386.7 L295.9,386.3 L295.5,385.9 L295.2,385.5 L295.0,385.0 L294.8,384.4 L294.6,383.8 L294.6,383.1 L294.6,382.5 L294.7,381.8 L294.8,381.1 L295.0,380.5 L295.3,379.8 L295.6,379.2 L296.0,378.6 L296.4,378.1 L296.9,377.6 L297.4,377.2 L297.9,376.9 L298.4,376.7 L299.0,376.5 L299.5,376.4 L300.1,376.4 L300.6,376.5 L301.1,376.6 L301.6,376.8 L302.0,377.2 L302.4,377.5 L302.7,378.0 L303.0,378.5 L303.2,379.1 L303.3,379.7" style="stroke-width:1.25"/>
<path class="l" d="M231.7,410.3 L231.2,410.6 L230.7,411.0 L230.1,411.2 L229.6,411.3 L229.0,411.4 L228.5,411.4 L228.0,411.3 L227.5,411.1 L227.0,410.9 L226.6,410.5 L226.2,410.1 L225.9,409.7 L225.7,409.2 L225.5,408.6 L225.3,408.0 L225.3,407.3 L225.3,406.7 L225.4,406.0 L225.5,405.3 L225.7,404.7 L226.0,404.0 L226.3,403.4 L226.7,402.8 L227.1,402.3 L227.6,401.8 L228.1,401.4 L228.6,401.1 L229.1,400.9 L229.7,400.7 L230.2,400.6 L230.8,400.6 L231.3,400.7 L231.8,400.8 L232.3,401.0 L232.7,401.4 L233.1,401.7 L233.4,402.2 L233.7,402.7 L233.9,403.3 L234.0,403.9" style="stroke-width:1.25"/>
<path class="l" d="M287.6,432.6 L287.1,432.9 L286.6,433.3 L286.0,433.5 L285.5,433.6 L284.9,433.7 L284.4,433.7 L283.9,433.6 L283.4,433.4 L282.9,433.2 L282.5,432.8 L282.1,432.4 L281.8,432.0 L281.6,431.5 L281.4,430.9 L281.2,430.3 L281.2,429.6 L281.2,429.0 L281.3,428.3 L281.4,427.6 L281.6,427.0 L281.9,426.3 L282.2,425.7 L282.6,425.1 L283.0,424.6 L283.5,424.1 L284.0,423.7 L284.5,423.4 L285.0,423.2 L285.6,423.0 L286.1,422.9 L286.7,422.9 L287.2,423.0 L287.7,423.1 L288.2,423.3 L288.6,423.7 L289.0,424.0 L289.3,424.5 L289.6,425.0 L289.8,425.6 L289.9,426.2" style="stroke-width:1.25"/>
<path class="l" d="M247.0,450.3 L246.5,450.6 L246.0,451.0 L245.4,451.2 L244.9,451.3 L244.3,451.4 L243.8,451.4 L243.3,451.3 L242.8,451.1 L242.3,450.9 L241.9,450.5 L241.5,450.1 L241.2,449.7 L241.0,449.2 L240.8,448.6 L240.6,448.0 L240.6,447.3 L240.6,446.7 L240.7,446.0 L240.8,445.3 L241.0,444.7 L241.3,444.0 L241.6,443.4 L242.0,442.8 L242.4,442.3 L242.9,441.8 L243.4,441.4 L243.9,441.1 L244.4,440.9 L245.0,440.7 L245.5,440.6 L246.1,440.6 L246.6,440.7 L247.1,440.8 L247.6,441.0 L248.0,441.4 L248.4,441.7 L248.7,442.2 L249.0,442.7 L249.2,443.3 L249.3,443.9" style="stroke-width:1.25"/>
<ellipse class="l" cx="298.4" cy="399.5" rx="2.2" ry="2.9" transform="rotate(22 298.4 399.5)" style="fill:#bbb;stroke-width:1.3"/>
<line class="ld" x1="300.8" y1="400.8" x2="320.5" y2="408.8" style="stroke-width:1"/>
<path class="w" d="M301.3,229.3 L300.7,218.7 L303.3,213.3 L308.7,210.0 L318.0,206.0 L322.7,202.0 L325.3,194.7 L330.0,190.7 L336.0,190.0 L359.3,200.7 L360.7,203.3 L358.0,206.0 L354.7,205.3 L354.0,213.3 L348.7,216.7 L342.0,215.3 L340.0,212.7 L340.0,202.0 L336.7,202.7 L335.3,209.3 L331.3,214.7 L324.7,221.3 L322.0,229.3 L321.3,250.0 L320.0,270.7 L321.3,268.7 L327.3,271.3 L328.0,278.7 L337.3,284.0 L336.7,290.0 L340.0,289.3 L340.7,286.0 L344.7,284.7 L351.3,286.7 L351.3,292.7 L355.3,294.0 L355.3,297.3 L351.3,301.3 L341.3,298.7 L340.0,294.7 L328.7,295.3 L319.3,298.7 L310.0,299.3 L304.0,296.0 L302.0,289.3 L303.3,282.7 L308.7,278.7 L308.0,272.0 L304.4,270.7 L304.7,267.3 L308.0,266.7 L307.3,240.0 L306.0,230.0Z" />
<path class="n" d="M310,212.7 L309.3,224 L311.3,250 L313.3,280 L310.7,296" />
<path class="n" d="M325.3,194.7 L330,196.5 L336.7,202.7" />
<path class="n" d="M305.6,211.4 C309,210.2 316,209.2 321.3,208 C324,206 326.4,203.4 328,201 C330,198.6 332,197.4 333.6,197.2" />
<path class="n" d="M330,196.5 L327,203 L322.7,207" />
<path class="n" d="M340,202 L343,200 L358,206" />
<path class="n" d="M343,200 L343,211 L348.7,216.7" />
<path class="n" d="M343,211 L350,213 L354,213.3" />
<path class="n" d="M350,213 L350,207.5" />
<path class="n" d="M336,190 L338,193.5 L357,202.5 L360.7,203.3" />
<path class="n" d="M344.7,284.7 L345,291 L351.3,292.7" />
<path class="n" d="M345,291 L341.3,298.7" />
<path class="n" d="M340,289.3 L340,294.7" />
<path class="n" d="M347,293 L347,299.5" />
<path class="n" d="M337.3,284 L341,285.8" />
<path class="n" d="M328,278.7 L324,277" />
<ellipse class="l" cx="317.2" cy="218.2" rx="2.2" ry="3.3" transform="rotate(20 317.2 218.2)" style="fill:#aaa;stroke-width:1.3"/>
<ellipse class="l" cx="316.7" cy="290.7" rx="2.3" ry="3.4" transform="rotate(20 316.7 290.7)" style="fill:#aaa;stroke-width:1.3"/>
<circle class="n" cx="324" cy="275.3" r="1.3"/>
<path class="w" d="M319.6,204.2 L305,198.6 C302.6,198.4 302.4,203.2 304.6,203.8 L315.8,207.6" style="stroke-width:1.2"/>
<line class="n" x1="280" y1="190.6" x2="303.2" y2="200.2" />
<line class="n" x1="280" y1="207" x2="301" y2="213.8" />
<ellipse class="k" cx="211.6" cy="167.4" rx="3.4" ry="4" transform="rotate(15 211.6 167.4)" style="fill:#777"/>
<ellipse class="l" cx="212.8" cy="167.9" rx="1.8" ry="2.4" transform="rotate(15 212.8 167.9)" style="fill:#fff"/>
<path class="w" d="M219,166.6 L234.5,170 L232.2,179.8 L219,175.8 C217.3,174 217.3,168.5 219,166.6 Z" />
<path class="n" d="M227.5,168.5 C226.3,171 226.3,175.5 227.3,178.3" />
<ellipse class="k" cx="236.6" cy="175.2" rx="3.9" ry="5.4" transform="rotate(15 236.6 175.2)" style="fill:#fff"/>
<ellipse class="l" cx="237.2" cy="175.4" rx="2" ry="3.2" transform="rotate(15 237.2 175.4)"/>
<path class="w" d="M245.6,177.2 L270,185 L269,189 L244.4,181.6 C243.2,180.6 243.8,177.4 245.6,177.2 Z" />
<path class="w" d="M270,185.3 L279.8,188.6 L279,191.6 L269.2,188.6 Z" style="fill:#aaa;stroke-width:0.9"/>
<line class="n" x1="270.8" y1="185.4" x2="270.0" y2="188.8" style="stroke:#333;stroke-width:0.8"/>
<line class="n" x1="272.7" y1="186.02" x2="271.9" y2="189.42000000000002" style="stroke:#333;stroke-width:0.8"/>
<line class="n" x1="274.6" y1="186.64000000000001" x2="273.8" y2="190.04000000000002" style="stroke:#333;stroke-width:0.8"/>
<line class="n" x1="276.5" y1="187.26000000000002" x2="275.7" y2="190.66000000000003" style="stroke:#333;stroke-width:0.8"/>
<line class="n" x1="278.40000000000003" y1="187.88" x2="277.6" y2="191.28" style="stroke:#333;stroke-width:0.8"/>
<path class="w" d="M268,199.2 L280.5,203.6 L279.2,208.4 L267,204.8 Z" style="fill:#b4b4b4;stroke-width:0.9"/>
<line class="n" x1="269.6" y1="199.9" x2="268.6" y2="204.7" style="stroke:#333;stroke-width:0.8"/>
<line class="n" x1="271.5" y1="200.56" x2="270.5" y2="205.29999999999998" style="stroke:#333;stroke-width:0.8"/>
<line class="n" x1="273.40000000000003" y1="201.22" x2="272.40000000000003" y2="205.89999999999998" style="stroke:#333;stroke-width:0.8"/>
<line class="n" x1="275.3" y1="201.88" x2="274.3" y2="206.5" style="stroke:#333;stroke-width:0.8"/>
<line class="n" x1="277.20000000000005" y1="202.54" x2="276.20000000000005" y2="207.1" style="stroke:#333;stroke-width:0.8"/>
<line class="n" x1="279.1" y1="203.20000000000002" x2="278.1" y2="207.7" style="stroke:#333;stroke-width:0.8"/>
<path class="w" d="M260.7,196 C263,195.2 265,195.8 266.4,197 C268,199 268.6,201.4 268,203.6 C267.4,205.4 266,206.6 264,207.2 L260.6,207.2 Z" style="stroke-width:1.2"/>
<ellipse class="k" cx="259" cy="201" rx="3.2" ry="6.4" transform="rotate(10 259 201)" style="fill:#fff;stroke-width:1.7"/>
<path class="w" d="M186.4,201.9 L198.6,205.6 L197.4,211.2 L187.2,208.3 C185.6,206.6 185.4,203.4 186.4,201.9 Z" style="fill:#b4b4b4;stroke-width:0.9"/>
<line class="n" x1="188.0" y1="202.5" x2="187.6" y2="208.4" style="stroke:#333;stroke-width:0.8"/>
<line class="n" x1="189.8" y1="203.1" x2="189.4" y2="208.9" style="stroke:#333;stroke-width:0.8"/>
<line class="n" x1="191.6" y1="203.7" x2="191.2" y2="209.4" style="stroke:#333;stroke-width:0.8"/>
<line class="n" x1="193.4" y1="204.3" x2="193.0" y2="209.9" style="stroke:#333;stroke-width:0.8"/>
<line class="n" x1="195.2" y1="204.9" x2="194.79999999999998" y2="210.4" style="stroke:#333;stroke-width:0.8"/>
<line class="n" x1="197.0" y1="205.5" x2="196.6" y2="210.9" style="stroke:#333;stroke-width:0.8"/>
<path class="w" d="M202,203.6 L211.2,205.6 L214.6,210.2 L212.6,215.8 L203.8,217.4 Z" style="stroke-width:1.2"/>
<ellipse class="l" cx="209.2" cy="210.8" rx="3.6" ry="4.9" transform="rotate(12 209.2 210.8)"/>
<path class="n" d="M203,206.6 L206.4,207.4 M203.4,213.8 L206.4,213.6" />
<ellipse class="k" cx="200.8" cy="209.6" rx="2.7" ry="7.2" transform="rotate(8 200.8 209.6)" style="fill:#fff;stroke-width:1.4"/>
<ellipse class="w" cx="348.3" cy="252.3" rx="12.6" ry="15.6" transform="rotate(18 348.3 252.3)" style="stroke-width:1.3"/>
<ellipse class="l" cx="350.3" cy="251.4" rx="9.8" ry="12.8" transform="rotate(18 350.3 251.4)" />
<ellipse class="n" cx="349.6" cy="251.8" rx="11" ry="14" transform="rotate(18 349.6 251.8)" />
<path class="w" d="M368.2,246.6 L397,254.4 L393.6,279 L364.8,270.4 C360.2,266.5 361.5,249 368.2,246.6 Z" />
<path class="n" d="M381.5,250.4 C378.3,256 377.4,268 379.6,274.8" />
<ellipse class="w" cx="395.6" cy="266.6" rx="7.8" ry="11.4" transform="rotate(14 395.6 266.6)" style="stroke-width:1.2"/>
<ellipse class="l" cx="396.6" cy="266.9" rx="5.9" ry="9.4" transform="rotate(14 396.6 266.9)" />
<ellipse class="n" cx="397.2" cy="267.1" rx="4.9" ry="8.4" transform="rotate(14 397.2 267.1)" />
<ellipse class="w" cx="417.6" cy="274.4" rx="12.8" ry="13.8" transform="rotate(18 417.6 274.4)" style="stroke-width:1.3"/>
<path class="n" d="M409.5,262 L419.5,264.2" />
<ellipse class="w" cx="421.6" cy="275.6" rx="9.4" ry="11.8" transform="rotate(18 421.6 275.6)" style="stroke-width:1.2"/>
<ellipse class="n" cx="422.4" cy="275.9" rx="7.8" ry="10.2" transform="rotate(18 422.4 275.9)" />
<ellipse class="l" cx="442.6" cy="282.8" rx="9.2" ry="12.2" transform="rotate(16 442.6 282.8)" style="stroke-width:1.3"/>
<ellipse class="n" cx="442.9" cy="282.9" rx="7.7" ry="10.7" transform="rotate(16 442.9 282.9)" />
<path class="f" d="M447,271.5 L450,273.5" style="stroke:#fff;stroke-width:2.4;fill:none"/>
<path class="w" d="M382.9,171.2 L384.7,161.8 L389.3,153.7 L397.5,149.0 L396.3,142.0 L397.5,137.9 L400.4,135.6 L408.0,136.8 L410.3,137.3 L414.0,134.6 L418.5,133.4 L425.0,133.0 L448.3,136.2 L469.3,140.2 L476.3,143.2 L483.3,150.2 L488.0,163.0 L490.3,180.5 L489.5,190.0 L487.7,199.3 L482.2,214.0 L477.0,220.0 L471.2,223.6 L464.0,225.4 L458.3,224.0 L451.0,219.5 L449.2,213.0 L436.3,209.4 L424.4,209.4 L414.3,209.4 L409.8,206.7 L399.7,204.0 L397.0,202.0 L396.4,195.7 L397.5,193.6 L390.5,191.0 L384.7,181.7Z" style="stroke-width:1.2"/>
<path class="n" d="M383.5,171 L388,172 L388.2,174.4 L384,173.6" />
<path class="n" d="M397.5,149 C401,148 405,148 408,148.6" />
<path class="n" d="M397.5,145.5 L406.8,148.4" />
<path class="n" d="M397.5,193.6 C401,192.4 405,192.4 408.8,193" />
<path class="n" d="M408.8,193 L409.75,206.7" />
<path class="l" d="M408,142 C407,146 407.2,149 407.4,151.3 C408.4,153.6 410,155 411.5,156" />
<path class="l" d="M410.3,137.3 C408.6,139 408,140.6 408,142" />
<path class="n" d="M412,139.7 C410.6,143 410.4,148 411,151.3 C412,153.4 413.4,154.6 415,155.4" />
<ellipse class="l" cx="420.8" cy="145.5" rx="4.4" ry="5.4" transform="rotate(12 420.8 145.5)" style="stroke-width:1.2"/>
<ellipse class="l" cx="420.8" cy="145.5" rx="2.3" ry="3.3" transform="rotate(12 420.8 145.5)" />
<path class="n" d="M426.7,135 C429.6,139 430.4,145 429,149 L431.3,147.8 L433.7,150.2 L432.5,156" />
<ellipse class="l" cx="422.2" cy="174.2" rx="17.6" ry="21.2" transform="rotate(14 422.2 174.2)" style="stroke-width:1.2"/>
<ellipse class="n" cx="423.4" cy="175" rx="15.2" ry="19" transform="rotate(14 423.4 175)" />
<ellipse class="n" cx="424.4" cy="175.4" rx="13.4" ry="17.4" transform="rotate(14 424.4 175.4)" />
<ellipse class="k" cx="425.2" cy="175.8" rx="11.2" ry="15.6" transform="rotate(14 425.2 175.8)" style="stroke-width:1.8"/>
<ellipse class="l" cx="426.2" cy="176.6" rx="8.8" ry="13" transform="rotate(14 426.2 176.6)" />
<ellipse class="l" cx="426.9" cy="177.2" rx="6.8" ry="10.8" transform="rotate(14 426.9 177.2)" style="stroke-width:1.2"/>
<path class="n" d="M425,166.6 C428.4,168.6 430.4,173 430.4,178" />
<ellipse class="l" cx="420.75" cy="203" rx="3.7" ry="4.6" transform="rotate(12 420.75 203)" style="stroke-width:1.2"/>
<ellipse class="l" cx="420.75" cy="203" rx="2.1" ry="3" transform="rotate(12 420.75 203)" />
<path class="n" d="M414,196.4 C413,200 413.2,205 414.3,209.4" />
<path class="n" d="M429,199.3 L429,204.8 L424.4,209.4" />
<path class="n" d="M413.8,192.2 C418,195 424,196 429,195" />
<path class="n" d="M425,138 L448.3,139.7 L464.7,143.75" />
<path class="n" d="M464.7,143.75 L469.3,140.25" />
<path class="n" d="M464.7,145 L483,155.5" />
<path class="n" d="M466,143.4 L483.3,153.6" />
<path class="n" d="M435,145.5 L460,149.6 C462.6,150.4 463.6,151.6 463.5,152.5 C463,154.4 461.6,155.4 460,156 L451.8,158.3" />
<path class="n" d="M435,145.5 C433.6,146 433,147 433.2,147.8 L434.3,153 L439,154.8 L447,158.3" />
<path class="n" d="M436,156 L450,161.8" />
<path class="n" d="M438.4,160.6 L450,165.4" />
<path class="l" d="M451.8,159 C455,157.6 459,157 463.5,157 C467,156.8 470,157 471.7,157.75 C473.6,158.8 474.6,160.2 475,161.8 C476.2,164 476.6,166.4 476.3,168.8 C475.6,171 474,172.6 471.7,173.5 C468,175 464.6,175.8 461,175.8 C457,175 453,173 450,171 C449,169.6 448.8,168 449,166.5 C449.2,163.6 450.2,161 451.8,159" />
<ellipse class="l" cx="465.25" cy="167.7" rx="3.7" ry="5" transform="rotate(14 465.25 167.7)" style="stroke-width:1.2"/>
<ellipse class="l" cx="465.25" cy="167.7" rx="2.2" ry="3.4" transform="rotate(14 465.25 167.7)" />
<path class="n" d="M459.4,160.4 C458.4,164 458.6,169 460,172.6" />
<path class="n" d="M440,163 L448.3,168.25 L450,171" />
<path class="n" d="M456.5,174.7 L458.8,177 L456.5,182.8 L447.75,180.5 L440,178" />
<path class="n" d="M440,181 L445.5,182 L443.7,190.2 L439,189.25" />
<path class="n" d="M445.5,182 L447.75,180.5" />
<path class="n" d="M434.5,193.8 L435.4,202 L448.25,208.5" />
<path class="n" d="M443.7,190.2 L434.5,193.8" />
<path class="n" d="M471.7,173.5 C475,174.6 478,175.6 479.8,177 C481.6,178.8 482.6,180.6 483.3,182.8" style="stroke-dasharray:2.4 1.4"/>
<path class="n" d="M468,177 C470,180 471.2,183 471.7,186.3 C472.4,190 472.8,194 473,197.5 C472.6,200.4 471.6,203 470.25,204.8" />
<path class="n" d="M480.3,181 C482.6,186 484,191.6 484,197.5 C483,204 480.6,211 476.7,217.7" />
<path class="l" d="M449.2,213 C450,211 451.2,209.6 452.8,208.5 C457,206.4 461.4,205.2 465.7,204.8 C468.4,204.6 471,205 473,205.75 C474.8,207.6 475.6,209.8 475.75,212.2 C475.6,215 474.6,217.4 473,219.5" />
<ellipse class="l" cx="464.2" cy="215.5" rx="3.7" ry="5" transform="rotate(14 464.2 215.5)" style="stroke-width:1.2"/>
<ellipse class="l" cx="464.2" cy="215.5" rx="2.2" ry="3.3" transform="rotate(14 464.2 215.5)" />
<path class="n" d="M459,211.2 C457.8,215 457.8,219.6 458.6,223.4" />
<path class="w" d="M408.6,107.6 L413.6,107.2 L414.6,110.6 L414.2,118 L410.6,119.4 L406.8,117.4 L405.8,112.6 L408.8,110.4 Z" style="stroke-width:1.2;fill:#d0d0d0"/>
<path class="l" d="M408.8,110.4 L414.4,110.8 M409.6,113 L410.4,119" />
<ellipse class="k" cx="419.6" cy="110.8" rx="3.3" ry="2.6" transform="rotate(-15 419.6 110.8)" style="fill:#fff"/>
<path class="l" d="M422.6,112 C424.6,115.5 424.2,120.5 420.6,123.4 C417,126 411,126.6 406.6,125.2 L404.6,122.4 C409,123.4 414,123.6 417.6,121.6 C420,119.8 420.4,116 419.4,113.6" style="stroke-width:1.2"/>
<path class="b" d="M404.6,121.6 L409,122.8 L408.2,125.8 L404.2,124.6 Z" />
<path class="l" d="M526.2,161.4 C526.8,159.6 528.4,159 529.6,160.2 L531.7,162.8 C533,164.6 533.2,166.6 532.6,168.3 L522.5,179.3 C519.6,182.2 516.4,183.6 513.3,184.1 C511.2,185 509.6,186.8 509.2,188.8 C508.8,189.6 508.75,190 508.75,190.6 L508.75,230.4 C509,232.4 509.6,234 510.6,235.25 L517,240.75 L524.3,245.3 C526.4,246.6 528,248.2 528.9,250 C529.4,251.6 528.2,252.6 527,251.75 L525.4,249.4" style="stroke-width:1.35"/>
<path class="n" d="M527.6,162.8 L529.8,165.4 C530.6,166.6 530.6,167.6 530.2,168.4 L520.6,178.4 C518.4,180.6 516,181.8 513.4,182.4" style="stroke-width:1"/>
<path class="n" d="M512.4,195.8 L512.4,228 C512.6,230.2 513.2,231.6 514.2,232.6 L524.6,241.4" style="stroke-width:1"/>
<path class="n" d="M515.2,200.4 L515.2,225.2" style="stroke-width:1"/>
<path class="l" d="M511,188 C512,187 513,186.7 514.4,186.7 L527.1,186.7 L528,192.2 L528,199.5" style="stroke-width:1.3"/>
<path class="l" d="M513.6,189.4 C512.4,192 512.4,195 513.6,197.8 C514.4,199.6 515.6,200.4 517,200.4 C519.4,200.2 521.4,199.6 522.5,198.6 C524.6,196.6 525.8,194 526,191.4 L526,188.8 L516,188.6 C514.8,188.6 514,188.8 513.6,189.4 Z" style="stroke-width:1.1"/>
<path class="l" d="M528,199.5 C522.4,201 519.6,205.6 519.75,210.5 C520,215.4 522.6,219.4 527.1,220.6 L527.1,223.3 L528,230.7 C526.4,232.6 524.4,233.4 522.5,233.4 L515,232.8" style="stroke-width:1.3"/>
<path class="l" d="M515.2,225.8 C516.4,224.6 518,224 520,223.8 L527.1,223.3 M516.2,227 C515.4,228.4 515.8,230 517,230.8 C519,231.8 522,231.6 524,230.4 C525.6,229.2 526,227.4 525.4,225.6 L518.4,225.8 C517.4,226 516.6,226.4 516.2,227 Z" style="stroke-width:1.1"/>
<path class="n" d="M525.4,249.4 C526,250.6 527,251 527.6,250.2" />
<path class="w" d="M470.0,248.0 L472.7,245.3 L480.7,242.7 L485.3,245.3 L481.3,250.0 L480.7,256.7 L484.7,260.0 L487.3,268.7 L488.0,282.0 L486.6,300.0 L486.0,308.0 L484.7,316.0 L481.3,320.7 L480.0,322.0 L482.0,326.7 L484.7,328.7 L482.7,332.0 L474.7,336.0 L470.7,334.7 L469.3,330.7 L472.0,328.7 L472.7,322.0 L472.0,318.7 L456.7,313.3 L454.0,310.0 L454.7,290.0 L454.0,278.0 L455.3,273.3 L473.3,257.3 L474.0,252.7 L470.7,251.3Z" style="stroke-width:1.2"/>
<path class="n" d="M474,260 L457.3,274.7 L456.7,279.3 L456.9,290 L458,308.7 L459.6,311.6 L473,316.6 L480.4,319.6" style="stroke-width:1"/>
<path class="n" d="M485.6,269.4 L462.5,281.25 L462,290 L462.7,312 L481.3,314.7" style="stroke-width:1"/>
<path class="n" d="M462.5,281.25 L457.6,276 M463.6,279 L480.6,263.75 L485.4,267" />
<path class="n" d="M472.7,322 L473,327.4 M480,322 L479,326" />
<path class="w" d="M504.7,260.0 L506.7,258.0 L516.7,254.7 L519.3,258.0 L516.0,262.7 L514.7,266.0 L518.0,278.0 L520.7,298.0 L517.3,299.3 L514.7,302.0 L515.3,304.7 L518.7,304.0 L520.7,305.3 L519.5,315.0 L518.7,323.3 L516.0,334.0 L516.0,340.0 L520.0,341.3 L518.7,344.7 L510.7,348.7 L506.0,347.3 L504.7,343.3 L508.7,340.7 L508.0,334.0 L486.7,319.3 L487.2,291.0 L484.0,295.3 L479.3,295.3 L480.0,289.3 L508.0,266.7 L506.0,263.0Z" style="stroke-width:1.2"/>
<path class="n" d="M507.3,270 L488.4,286 L490.7,289 L490.7,318.7 L508.7,331" style="stroke-width:1"/>
<path class="n" d="M484.7,290.7 L484,295.3 M480,289.3 L484.7,290.7 L487.2,291" />
<path class="n" d="M508,334 L508.6,338 M516,334 L515.4,338" />
<path class="l" d="M533.1,300.1 L533.4,299.8 L533.6,299.4 L534.0,298.9 L534.4,298.3 L534.9,297.7 L535.4,297.2 L536.0,296.8 L536.8,296.4 L537.6,296.1 L538.5,295.9 L539.5,295.7 L540.5,295.5 L541.6,295.4 L542.8,295.4 L543.9,295.4 L545.0,295.5 L546.1,295.6 L547.3,295.8 L548.6,296.1 L549.8,296.4 L551.0,296.8 L552.2,297.2 L553.2,297.7 L554.2,298.2 L555.1,298.8 L555.9,299.5 L556.7,300.1 L557.4,300.8 L558.0,301.7 L558.5,302.6 L559.0,303.6 L559.3,304.7 L559.5,306.0 L559.6,307.4 L559.6,309.0 L559.6,310.6 L559.4,312.3 L559.2,314.0 L559.0,315.8 L558.8,317.5 L558.4,319.3 L558.0,321.2 L557.6,323.2 L557.1,325.2 L556.5,327.1 L556.0,329.0 L555.5,330.7 L555.1,332.2 L554.7,333.4 L554.4,334.4 L554.1,335.2 L553.8,336.0 L553.5,336.7 L553.2,337.5 L552.8,338.4 L552.3,339.5 L551.7,340.8 L551.1,342.3 L550.5,343.9 L549.8,345.5 L549.0,347.3 L548.3,349.0 L547.5,350.7 L546.8,352.3 L546.0,353.9 L545.3,355.6 L544.5,357.2 L543.7,358.9 L542.8,360.5 L542.0,362.1 L541.2,363.7 L540.4,365.2 L539.6,366.7 L538.8,368.2 L538.0,369.6 L537.3,371.0 L536.5,372.4 L535.7,373.8 L534.8,375.0 L534.0,376.2 L533.1,377.3 L532.3,378.3 L531.4,379.3 L530.5,380.2 L529.6,381.1 L528.7,381.9 L527.7,382.7 L526.7,383.5 L525.7,384.3 L524.7,385.0 L523.6,385.7 L522.6,386.3 L521.5,387.0 L520.3,387.6 L518.9,388.3 L517.5,389.0 L515.8,389.8 L513.8,390.6 L511.6,391.5 L509.4,392.3 L507.2,393.2 L505.3,393.9 L503.6,394.5 L502.4,395.0" style="stroke-width:1.25"/>
<path class="n" d="M531.2,298.5 L531.4,298.3 L531.6,297.9 L532.0,297.4 L532.5,296.8 L533.1,296.0 L533.8,295.3 L534.7,294.6 L535.8,294.1 L536.8,293.7 L537.9,293.5 L539.1,293.2 L540.2,293.1 L541.5,293.0 L542.7,292.9 L544.0,292.9 L545.2,293.0 L546.5,293.2 L547.8,293.4 L549.1,293.7 L550.5,294.0 L551.8,294.4 L553.1,294.9 L554.4,295.5 L555.5,296.1 L556.5,296.8 L557.5,297.5 L558.4,298.3 L559.3,299.2 L560.0,300.2 L560.7,301.4 L561.3,302.7 L561.7,304.1 L562.0,305.7 L562.1,307.3 L562.1,309.0 L562.1,310.7 L561.9,312.5 L561.7,314.3 L561.5,316.1 L561.2,317.9 L560.9,319.8 L560.5,321.8 L560.0,323.8 L559.5,325.8 L559.0,327.8 L558.4,329.7 L557.9,331.4 L557.5,332.9 L557.1,334.2 L556.8,335.2 L556.4,336.1 L556.1,336.9 L555.8,337.7 L555.5,338.5 L555.1,339.4 L554.6,340.5 L554.1,341.8 L553.4,343.3 L552.8,344.9 L552.1,346.5 L551.3,348.2 L550.6,350.0 L549.8,351.7 L549.1,353.3 L548.3,355.0 L547.5,356.6 L546.7,358.3 L545.9,360.0 L545.1,361.6 L544.2,363.2 L543.4,364.8 L542.6,366.4 L541.8,367.9 L541.0,369.3 L540.2,370.8 L539.4,372.3 L538.6,373.7 L537.8,375.1 L536.9,376.4 L536.0,377.7 L535.1,378.9 L534.2,380.0 L533.2,381.0 L532.3,382.0 L531.3,382.9 L530.3,383.8 L529.3,384.6 L528.2,385.5 L527.2,386.3 L526.1,387.0 L525.0,387.8 L523.9,388.5 L522.7,389.2 L521.4,389.8 L520.1,390.5 L518.6,391.3 L516.8,392.1 L514.7,392.9 L512.5,393.8 L510.3,394.7 L508.1,395.5 L506.1,396.2 L504.5,396.9 L503.3,397.3" style="stroke-width:1"/>
<line class="l" x1="533.1" y1="300.1" x2="531.1680216211572" y2="298.5133495936504" />
<path class="l" d="M502.4,395.4 L494,398 L493.4,395 L501.4,392.4" style="fill:#444"/>
<path class="w" d="M493.6,394.4 L476.4,400 C474,401 473.8,405 476.2,405.6 L494.6,399.4 Z" style="stroke-width:1.7"/>
<path class="b" d="M483.6,398.2 L493.2,395 L494.2,398.8 L485,402.2 Z" style="fill:#333"/>
<line class="n" x1="485.6" y1="397.4" x2="486.6" y2="401.4" style="stroke:#ddd;stroke-width:0.6"/>
<line class="n" x1="487.70000000000005" y1="396.7" x2="488.70000000000005" y2="400.7" style="stroke:#ddd;stroke-width:0.6"/>
<line class="n" x1="489.8" y1="396.0" x2="490.8" y2="400.0" style="stroke:#ddd;stroke-width:0.6"/>
<line class="n" x1="491.90000000000003" y1="395.29999999999995" x2="492.90000000000003" y2="399.29999999999995" style="stroke:#ddd;stroke-width:0.6"/>
<path class="n" d="M478.6,400.2 C477.6,401.8 478,403.8 479,404.6" />
<path class="w" d="M323.4,407.4 L330.6,405.6 L333,417 L326.4,416.6 C323.6,414.6 322.4,410 323.4,407.4 Z" style="fill:#c8c8c8;stroke-width:1.2"/>
<line class="n" x1="324.6" y1="407.4" x2="326.0" y2="416.2" style="stroke:#111"/>
<line class="n" x1="326.3" y1="407.04999999999995" x2="327.7" y2="416.09999999999997" style="stroke:#111"/>
<line class="n" x1="328.0" y1="406.7" x2="329.4" y2="416.0" style="stroke:#111"/>
<line class="n" x1="329.70000000000005" y1="406.34999999999997" x2="331.1" y2="415.9" style="stroke:#111"/>
<ellipse class="k" cx="336.6" cy="412.8" rx="5" ry="7" transform="rotate(-12 336.6 412.8)" style="fill:#fff"/>
<ellipse class="l" cx="337.6" cy="413" rx="2.8" ry="4.4" transform="rotate(-12 337.6 413)"/>
<path class="n" d="M332.6,408 C331.4,411 331.8,415.4 333.4,418" />
<path class="w" d="M383.3,472.5 L406.25,463.3 L418.2,472.5 L392.5,484.4 L386,484.8 C382.8,484.4 380.4,482 379.8,479 C379.4,476.4 380.8,474 383.3,472.5 Z" style="stroke-width:1.2"/>
<path class="n" d="M383.3,472.5 C386.6,473.4 389,476.4 389.2,479.6 C389.2,481.8 388.2,483.6 386.6,484.6" style="stroke-width:1"/>
<path class="n" d="M406.25,463.3 L409.2,467.2 L418.2,472.5 M409.2,467.2 L404,469.4" style="stroke-width:1"/>
<path class="w" d="M380.2,477.4 L375,479.2 C373.4,479.8 373.6,483.2 375.2,483.6 L380.8,482.8" style="stroke-width:1.1"/>
<path class="n" d="M376.8,478.8 C376,480.2 376.2,482.4 377.2,483.2" />
<path class="w" d="M420.6,476.4 L448.6,464.4 L463,471.6 L435.6,486.2 Z" style="stroke-width:1.15"/>
<path class="n" d="M424.4,476.6 L448.4,466.6 L459.6,471.8 L435.6,484 Z" />
<path class="n" d="M427,477.4 C434,472 444,468.6 452,469.6 M433,482 C440,477 449,473.4 456.6,473" />
<path class="nw" d="M488.9,463 C491,459 492,458.4 492.2,458.1 L506.9,446.7 L521.6,434.4 L539.5,423.8 C544,421 548,419.4 552.6,418.9 L560.8,418.9 C564,420 567,421.6 568.9,423.8 L575.5,430.3 C577,432.4 577.9,434.6 577.9,436.9 C577.6,440 576.8,442.6 575.5,445 C573.6,448 571.4,450.2 568.9,451.6 C568,455 566,457 563.6,457.6 C562,457.8 560.6,457.4 559.8,456.6 L559.1,458.1 L530,473.6 C529,477.6 526.6,480.6 523.6,481.4 C520.6,482 518,480.6 516.7,478.5 L505.2,476.9 C500,476 496.6,474.6 493.8,472.8 C490.6,471 488.4,469.4 488,468 C488,466 488.4,464.4 488.9,463 Z" style="stroke-width:0.85"/>
<path class="n" d="M521.6,434.4 L538.7,444.2 L528.1,458.1 L506.9,446.7" style="stroke-width:0.85"/>
<path class="n" d="M506.9,446.7 C508,448.4 518,453.6 528.1,458.1" />
<path class="n" d="M538.7,444.2 C542,440.6 545.6,438.2 549.3,436.9 C552.4,435.6 555,435 557.5,435.2 C560,435.6 562,436.8 562.4,438.5 C561,441.4 558,444.4 554.2,446.7 C549,450 542,452.6 536.3,454 L533,454.8" style="stroke-width:0.85"/>
<path class="n" d="M539.5,423.8 C543,425 546.6,426.8 549.3,428.7 C555,430.6 560.4,432 565.7,432.8 L575.5,430.3" />
<path class="n" d="M549.3,428.7 C552,425.4 556,421.6 560.8,418.9" />
<path class="n" d="M565.7,432.8 C567.4,434.6 568.4,436.6 568.9,439" />
<path class="n" d="M492.2,458.1 C497,460.4 503,462.4 509,463.4 L520,459.6 L528.1,458.1" />
<path class="n" d="M505.2,448.3 C512,451.4 520,455.4 526,458.8" />
<path class="n" d="M509,463.4 C512,465.6 515,468.4 516.7,471.4" />
<path class="n" d="M490.6,464.6 C494,467 498,468.6 502,469.4 L505.2,471.2" />
<path class="n" d="M489.6,466.4 L493.8,467.9 L500.4,470.6" />
<path class="n" d="M493.8,466 L497.2,467.4 L497,469 L493.6,467.8 Z M498.2,467.8 L501.4,469 L501.2,470.6 L498,469.4 Z" style="stroke-width:0.7"/>
<path class="n" d="M509.4,445 L507,439 L508.6,438.5 L510.4,442.8" />
<path class="nw" d="M532.2,455.7 L538.7,458.1 L537.8,459.6 L531.8,457.6 Z" style="stroke-width:0.8"/>
<path class="n" d="M528.1,458.1 L533,454.8" />
<path class="n" d="M530,473.6 L559.1,458.1" />
<ellipse class="nw" cx="522.6" cy="474.8" rx="4.6" ry="7" transform="rotate(22 522.6 474.8)" style="stroke-width:0.85"/>
<path class="n" d="M516.7,478.5 C515.6,474 517,468.6 520.4,466 C523,464.4 526,465 528,467.6" />
<path class="n" d="M555.9,454.8 C555.4,450 557.6,445.4 562.4,443.4 C565.4,442.6 568,445 568.9,451.6" />
<ellipse class="b" cx="560" cy="450.6" rx="2.7" ry="5.7" transform="rotate(16 560 450.6)" style="fill:#0c0c0c"/>
<path class="nw" d="M16.6,109.75 L18.1,108.25 L21.5,108.6 L29,111.25 L35.75,113.1 L38.4,115 L38.75,118 L44,120.25 L50,123.25 L56,124.75 L56.4,126.25 L50,129.25 L42.5,130.75 L36.5,128.5 L30.5,125.5 L27.1,122.5 L26.75,118 L23.75,116.9 L21.1,116.1 L19.25,116.9 L16.6,116.5 Z" style="stroke-width:1.15"/>
<path class="n" d="M16.6,109.75 L19.25,110.4 L19.25,116.9 M19.25,112.75 L20.75,112.4 L21.1,116.1 M21.5,108.6 L21.6,112 M23.75,116.9 L23.75,113.1 L29,113.5 L32,119.5 L30.5,124 L27.1,122.5 M29,113.5 L29,111.25 M32,119.5 L35.8,120.6 L36.5,119.5 L35.75,113.1" style="stroke-width:1"/>
<path class="n" d="M26.9,119.6 L30.8,121 M36.5,119.5 L49.25,124.75 L54.6,125.6 M33.5,122.5 L47,127.75 L53,127.4 M31.4,124.4 L43.6,129.4 M38.75,118 L37.6,120.2" style="stroke-width:0.95"/>
<path class="nw" d="M79.6,110.6 L83.4,106.4 L98.4,104.8 L102,108 L102,116.6 L99.6,119.4 L81.4,119.8 L79.6,117 Z" style="stroke-width:1.15"/>
<path class="n" d="M79.6,110.6 L83.6,111.4 L98.8,109.8 L102,108 M83.6,111.4 L83.8,119.6 M98.8,109.8 L98.8,119" style="stroke-width:1"/>
<path class="n" d="M88,106 L88.2,116.4 M89.8,105.8 L90,116.2 M93.8,105.4 L94,116 M95.8,105.2 L96,115.8" style="stroke-width:1.2;stroke:#111"/>
<ellipse class="nw" cx="90.4" cy="120.4" rx="10.4" ry="2.4" style="stroke-width:1.2"/>
<path class="n" d="M86.2,122.6 L89.6,130.4 L90.8,130.4 L93.8,122.6 M88.6,122.8 L90,128 L91.4,122.8" style="stroke-width:1.05"/>
<path class="nw" d="M36.7,143.3 L40.8,139.2 L45.8,140 L45.8,143.3 L50.8,144.2 L50.8,152.5 L40.8,159.2 L36.7,159.2 Z" style="stroke-width:1.15"/>
<path class="n" d="M40.8,139.2 L40.8,159.2 M40.8,145.6 L45.8,143.3 M42.4,149.6 L50.8,146.2 M42.4,149.6 L42.4,152 L50.8,148.8 M40.8,154 L45,151.6" />
<path class="nw" d="M62.25,153.25 L67.5,151.75 C70,148.6 74,146.4 78,145 C81,143.8 84.4,143 87.75,142.75 L87.75,140.5 L94.5,137.5 L102.75,140.5 L102.75,155.5 L97.5,159.25 L96.6,154 L84,160 L79.5,163 L75,161.5 L69,156.25 Z" style="stroke-width:1.15"/>
<path class="n" d="M87.75,140.5 L96,143.6 L102.75,140.5 M96,143.6 L96.6,154 M87.75,142.75 L96,145.4 M67.5,151.75 L73.6,155.6 C76,151.6 80,148.4 85,146.6 L89.6,145.2 M69,156.25 L73.6,155.6 M73.6,155.6 L79.6,159.4" style="stroke-width:1"/>
<path class="n" d="M79.5,163 L79.6,159.4 L88,156.4 L90.4,153 L84.6,154 L80.4,157.2 Z" style="stroke-width:1;fill:#555"/>
<path class="nw" d="M123.1,151.5 L123.8,156.9 L129.4,159.4 L135.0,156.2 L137.5,150.0 L132.8,143.5" style="stroke-width:1.15"/>
<path class="n" d="M123.8,153.8 L129.4,155.2 L129.4,159.4M129.4,155.2 L136.2,152.8" style="stroke-width:1"/>
<path class="nw" d="M131.2,116.9 L131.4,116.6 L131.6,116.3 L131.8,115.9 L132.1,115.5 L132.4,115.2 L132.8,115.0 L133.2,114.9 L133.8,114.8 L134.4,114.8 L135.0,114.8 L135.6,115.0 L136.0,115.2 L136.3,115.7 L136.6,116.4 L136.8,117.1 L136.9,117.9 L137.0,118.7 L136.9,119.4 L136.6,119.9 L136.1,120.3 L135.5,120.7 L134.9,121.2 L134.4,121.6 L134.0,122.2 L133.7,123.0 L133.5,123.8 L133.3,124.7 L133.1,125.6 L133.1,126.5 L133.1,127.5 L133.3,128.5 L133.5,129.6 L133.8,130.8 L134.1,131.9 L134.5,132.9 L135.0,133.8 L135.5,134.5 L136.1,135.2 L136.7,135.8 L137.4,136.3 L138.1,136.7 L138.8,136.9 L139.5,136.9 L140.3,136.8 L141.1,136.5 L141.9,136.1 L142.6,135.6 L143.1,135.0 L143.5,134.2 L143.9,133.2 L144.1,132.1 L144.3,130.9 L144.3,129.8 L144.4,128.8 L144.3,127.7 L144.2,126.7 L143.9,125.7 L143.7,124.7 L143.4,123.8 L143.1,123.1 L142.8,122.6 L142.5,122.3 L142.1,122.0 L141.8,121.8 L141.6,121.6 L141.5,121.2 L141.6,120.8 L141.9,120.1 L142.3,119.5 L142.8,118.9 L143.3,118.4 L143.8,118.1 L144.3,118.0 L144.9,118.1 L145.6,118.2 L146.2,118.5 L146.8,118.9 L147.2,119.4 L147.6,120.0 L147.8,120.7 L147.9,121.5 L148.0,122.4 L148.1,123.4 L148.1,124.4 L148.2,125.4 L148.3,126.5 L148.3,127.7 L148.3,128.8 L148.2,130.0 L148.1,131.2 L148.0,132.5 L147.8,133.8 L147.5,135.1 L147.2,136.4 L146.8,137.6 L146.2,138.8 L145.6,139.8 L144.8,140.7 L143.9,141.6 L143.0,142.5 L142.1,143.2 L141.2,143.8 L140.4,144.2 L139.5,144.5 L138.7,144.8 L137.8,144.9 L137.0,145.0 L136.2,145.0 L135.6,145.0 L134.9,144.9 L134.3,144.8 L133.8,144.5 L133.2,144.1 L132.8,143.5 L132.3,142.6 L131.9,141.4 L131.5,140.1 L131.2,138.7 L130.9,137.4 L130.6,136.2 L130.4,135.3 L130.2,134.4 L130.1,133.6 L129.9,132.8 L129.8,132.0 L129.8,131.2 L129.6,130.5 L129.5,129.8 L129.5,129.1 L129.4,128.4 L129.4,127.6 L129.5,126.9 L129.7,126.1 L130.0,125.2 L130.4,124.3 L130.7,123.4 L131.1,122.6 L131.2,121.9 L131.3,121.2 L131.3,120.6 L131.2,120.1 L131.1,119.6 L131.0,119.2 L131.0,118.8 L131.0,118.3 L131.1,118.0 L131.1,117.6 L131.2,117.3 L131.2,117.1 L131.2,116.9Z" style="stroke-width:1.25"/>
<path class="nw" d="M114.0,123.5 L114.2,123.3 L114.4,122.9 L114.6,122.5 L114.9,122.1 L115.2,121.7 L115.6,121.5 L116.1,121.4 L116.6,121.3 L117.2,121.4 L117.8,121.5 L118.3,121.6 L118.8,121.9 L119.1,122.2 L119.4,122.7 L119.6,123.3 L119.8,123.9 L120.0,124.4 L120.0,125.0 L119.9,125.5 L119.8,126.0 L119.6,126.5 L119.3,127.0 L119.0,127.5 L118.8,128.1 L118.4,128.8 L118.1,129.4 L117.7,130.1 L117.3,130.9 L117.0,131.6 L116.9,132.5 L116.9,133.5 L117.0,134.5 L117.1,135.6 L117.4,136.7 L117.7,137.8 L118.1,138.8 L118.6,139.6 L119.2,140.5 L119.8,141.3 L120.5,142.1 L121.2,142.7 L121.9,143.1 L122.5,143.4 L123.2,143.6 L123.8,143.7 L124.5,143.6 L125.1,143.4 L125.6,143.1 L126.1,142.7 L126.7,142.1 L127.1,141.3 L127.6,140.5 L127.9,139.6 L128.1,138.8 L128.3,137.8 L128.3,136.7 L128.3,135.6 L128.2,134.5 L128.0,133.4 L127.8,132.5 L127.4,131.7 L126.9,131.0 L126.4,130.4 L125.9,129.8 L125.4,129.3 L125.0,128.8 L124.7,128.2 L124.4,127.8 L124.1,127.3 L124.0,126.9 L123.9,126.6 L124.0,126.2 L124.3,125.9 L124.7,125.6 L125.2,125.3 L125.8,125.0 L126.3,124.9 L126.9,125.0 L127.4,125.2 L128.0,125.5 L128.6,126.0 L129.1,126.6 L129.6,127.3 L130.0,128.1 L130.3,129.2 L130.4,130.4 L130.5,131.8 L130.6,133.3 L130.6,134.8 L130.6,136.2 L130.6,137.7 L130.6,139.3 L130.5,140.9 L130.3,142.4 L130.2,143.8 L130.0,145.0 L129.8,145.9 L129.6,146.7 L129.3,147.3 L129.0,147.8 L128.6,148.3 L128.1,148.8 L127.6,149.2 L126.9,149.7 L126.2,150.1 L125.4,150.4 L124.6,150.6 L123.8,150.6 L122.8,150.5 L121.8,150.2 L120.7,149.8 L119.6,149.4 L118.5,148.8 L117.5,148.1 L116.6,147.4 L115.6,146.6 L114.7,145.7 L113.9,144.7 L113.1,143.7 L112.5,142.5 L112.0,141.2 L111.5,139.7 L111.2,138.2 L110.9,136.6 L110.7,135.1 L110.6,133.8 L110.6,132.5 L110.8,131.4 L111.0,130.3 L111.3,129.3 L111.6,128.4 L111.9,127.5 L112.2,126.7 L112.6,125.9 L113.0,125.1 L113.4,124.5 L113.8,123.9 L114.0,123.5Z" style="stroke-width:1.25"/>
<path class="n" d="M114.8,127.8 L114.6,128.4 L114.5,129.3 L114.3,130.3 L114.1,131.5 L114.0,132.6 L114.0,133.8 L114.1,134.9 L114.3,136.0 L114.5,137.2 L114.8,138.4 L115.2,139.6 L115.6,140.6 L116.2,141.6 L116.9,142.6 L117.6,143.5 L118.4,144.3 L119.2,145.1 L120.0,145.6 L120.8,146.1 L121.7,146.4 L122.5,146.5 L123.4,146.6 L124.2,146.6 L125.0,146.5 L125.8,146.2 L126.6,145.8 L127.3,145.2 L128.0,144.6 L128.6,144.1 L129.0,143.8" style="stroke-width:0.9"/>
<path class="n" d="M146.5,125.0 L146.5,125.8 L146.5,127.0 L146.5,128.4 L146.5,129.9 L146.4,131.3 L146.2,132.5 L146.0,133.6 L145.7,134.6 L145.4,135.6 L145.0,136.5 L144.5,137.4 L144.0,138.1 L143.4,138.8 L142.7,139.4 L142.0,139.9 L141.2,140.4 L140.5,140.7 L139.8,141.0 L139.0,141.1 L138.2,141.1 L137.4,141.0 L136.7,140.8 L136.1,140.7 L135.6,140.6" style="stroke-width:0.9"/>
<path class="n" d="M114.8,124.0 L118.8,123.5M124.8,127.2 L129.0,127.0M132.0,117.8 L136.0,117.2M142.2,120.5 L147.0,120.8" style="stroke-width:0.9"/>
<path class="nw" d="M56.6,192 L79.6,182.4 L81,185.6 L58.4,195.6 Z" style="fill:#999;stroke-width:1"/>
<line class="n" x1="58.6" y1="191.6" x2="59.800000000000004" y2="194.79999999999998" style="stroke:#222;stroke-width:0.7"/>
<line class="n" x1="60.800000000000004" y1="190.67" x2="62.00000000000001" y2="193.86999999999998" style="stroke:#222;stroke-width:0.7"/>
<line class="n" x1="63.0" y1="189.73999999999998" x2="64.2" y2="192.93999999999997" style="stroke:#222;stroke-width:0.7"/>
<line class="n" x1="65.2" y1="188.81" x2="66.4" y2="192.01" style="stroke:#222;stroke-width:0.7"/>
<line class="n" x1="67.4" y1="187.88" x2="68.60000000000001" y2="191.07999999999998" style="stroke:#222;stroke-width:0.7"/>
<line class="n" x1="69.6" y1="186.95" x2="70.8" y2="190.14999999999998" style="stroke:#222;stroke-width:0.7"/>
<line class="n" x1="71.8" y1="186.01999999999998" x2="73.0" y2="189.21999999999997" style="stroke:#222;stroke-width:0.7"/>
<line class="n" x1="74.0" y1="185.09" x2="75.2" y2="188.29" style="stroke:#222;stroke-width:0.7"/>
<line class="n" x1="76.2" y1="184.16" x2="77.4" y2="187.35999999999999" style="stroke:#222;stroke-width:0.7"/>
<line class="n" x1="78.4" y1="183.23" x2="79.60000000000001" y2="186.42999999999998" style="stroke:#222;stroke-width:0.7"/>
<ellipse class="nw" cx="87.6" cy="182.2" rx="9" ry="5" transform="rotate(-6 87.6 182.2)" style="stroke-width:1.3"/>
<ellipse class="n" cx="87.9" cy="182.1" rx="5.4" ry="2.7" transform="rotate(-6 87.9 182.1)" style="stroke-width:1.15"/>
<path class="nw" d="M31.25,197.25 L45.5,190.5 L57.5,197.25 L58.25,200.25 C60.6,201.4 62.2,203.2 62.75,205.5 L63.5,220.5 L42.5,229.5 L36.5,228 L36.5,216 C36.4,213.6 35.8,212.2 35,211.4 C33.8,210 32.4,209.8 31.4,210.4 C29.8,211.2 29,212.6 29,213.75 L29,221.25 L25.25,221.25 L25.25,210 C25.6,207.4 27,205.2 29,204 C30,203 31,202.2 32,201.6 Z" style="stroke-width:1.2"/>
<path class="n" d="M31.25,197.25 L44,204 L57.5,197.25 M44,204 L44,208.5 L58.25,200.25 M32,201.6 L44,208.5" style="stroke-width:1"/>
<path class="n" d="M32,201.6 C35,201.2 38,203 40.25,205.5 C41.8,207.6 42.5,210.4 42.5,213 L42.5,229.5" style="stroke-width:1"/>
<path class="n" d="M29,221.25 L30.5,220.4 L30.5,217 M33.2,213.4 L36.5,216" />
<ellipse class="n" cx="44" cy="195.8" rx="1.8" ry="1.2"/>
<path class="g" d="M13.5,99.5 H151.5 V166 H13.5 Z" />
<path class="g" d="M13.5,132.5 H105.5" />
<path class="g" d="M59.5,99.5 V166" />
<path class="g" d="M105.5,99.5 V232.2 H13.5 V166" />
<circle class="l" cx="130.2" cy="203.6" r="11.0" style="stroke-width:1.3"/>
<circle class="l" cx="383.2" cy="378.4" r="10.9" style="stroke-width:1.3"/>
<circle class="l" cx="407.4" cy="413.4" r="10.9" style="stroke-width:1.3"/>
<circle class="l" cx="328.6" cy="469.2" r="11.0" style="stroke-width:1.3"/>
<circle class="l" cx="562.1" cy="367.6" r="10.9" style="stroke-width:1.3"/>
<circle class="l" cx="562.1" cy="395.6" r="10.9" style="stroke-width:1.3"/>
<path class="ld" d="M226.4,129.5 V122.4 L337.5,161.8 V190" />
<line class="ld" x1="253.4" y1="127.5" x2="253.4" y2="132" />
<path class="ld" d="M226.4,141.5 V145.4" />
<path class="ld" d="M213,146.5 V140.4 L234.4,148.4 V169" />
<line class="ld" x1="213" y1="157.8" x2="213" y2="162.5" />
<line class="ld" x1="262" y1="135" x2="262" y2="150" />
<line class="ld" x1="262" y1="161.8" x2="262" y2="179.5" />
<line class="ld" x1="195" y1="194.5" x2="195" y2="201" />
<line class="ld" x1="266.6" y1="208.5" x2="266.6" y2="221" />
<line class="ld" x1="387" y1="119.3" x2="403.5" y2="119.3" />
<line class="ld" x1="424.5" y1="119.3" x2="441" y2="119.3" />
<line class="ld" x1="469" y1="124.8" x2="469" y2="138" />
<line class="ld" x1="528" y1="223.9" x2="539.4" y2="223.9" />
<path class="ld" d="M341.4,268.4 V275.6 L440.4,308.6 V295.4" />
<line class="ld" x1="416.6" y1="287.5" x2="416.6" y2="300.6" />
<line class="ld" x1="392.8" y1="293.2" x2="392.8" y2="302.4" style="stroke-width:1"/>
<rect x="476.3" y="353" width="27.6" height="23.3" fill="#f6dc58"/>
<path class="ld" d="M475,336.7 V344.6 L512.5,359.2 V350" />
<line class="ld" x1="488.7" y1="350.4" x2="488.7" y2="357.4" style="stroke-width:0.8"/>
<line class="ld" x1="553.5" y1="339" x2="559" y2="339" />
<line class="ld" x1="315.6" y1="387.8" x2="333.4" y2="387.8" />
<line class="ld" x1="346.8" y1="416.7" x2="353.8" y2="416.7" />
<line class="ld" x1="385" y1="462.5" x2="385" y2="469" />
<line class="ld" x1="430.3" y1="465" x2="430.3" y2="469.5" />
<line class="ld" x1="41" y1="283.6" x2="57" y2="283.6" />
<path class="g" d="M486.9,417.3 H578.3 V483.4 H486.9 Z" />
<path class="g" d="M486.9,485.6 H534 V495.3 H486.9 Z" />
<g filter="url(#idf)">
<text class="t" x="41.3" y="110.3" text-anchor="start" >18</text>
<text class="t" x="63.1" y="110.9" text-anchor="start" >16</text>
<text class="t" x="107.8" y="112.5" text-anchor="start" >14</text>
<text class="t" x="18" y="143.7" text-anchor="start" >17</text>
<text class="t" x="61.3" y="143.7" text-anchor="start" >15</text>
<text class="t" x="17.6" y="180.5" text-anchor="start" >13</text>
<text class="t" x="130.6" y="207.9" text-anchor="middle" >18</text>
<text class="t" x="383.59999999999997" y="382.7" text-anchor="middle" >14</text>
<text class="t" x="407.79999999999995" y="417.7" text-anchor="middle" >17</text>
<text class="t" x="329.0" y="473.5" text-anchor="middle" >13</text>
<text class="t" x="562.5" y="371.90000000000003" text-anchor="middle" >16</text>
<text class="t" x="562.5" y="399.90000000000003" text-anchor="middle" >15</text>
<text class="t" x="253.4" y="125.6" text-anchor="middle" >2</text>
<text class="t" x="226.6" y="139.6" text-anchor="middle" >7</text>
<text class="t" x="213" y="156" text-anchor="middle" >9</text>
<text class="t" x="262" y="160" text-anchor="middle" >8</text>
<text class="t" x="195.5" y="193" text-anchor="middle" >22</text>
<text class="t" x="266.6" y="230.6" text-anchor="middle" >4</text>
<text class="t" x="382.6" y="123" text-anchor="middle" >5</text>
<text class="t" x="445.6" y="123" text-anchor="middle" >6</text>
<text class="t" x="469" y="123" text-anchor="middle" >1</text>
<text class="t" x="544.5" y="228" text-anchor="middle" >3</text>
<text class="t" x="392.8" y="313" text-anchor="middle" >11</text>
<text class="t" x="489.4" y="369.4" text-anchor="middle" >12</text>
<text class="t" x="568.2" y="343.2" text-anchor="middle" >10</text>
<text class="t" x="342" y="392" text-anchor="middle" >19</text>
<text class="t" x="362.7" y="420.9" text-anchor="middle" >20</text>
<text class="t" x="385.2" y="461.2" text-anchor="middle" >23</text>
<text class="t" x="430.6" y="463.9" text-anchor="middle" >24</text>
<text class="t" x="33" y="288" text-anchor="middle" >21</text>
<text class="s" x="490.3" y="493.3" text-anchor="start" >00046930</text>
</g>
</svg>
</body></html>
